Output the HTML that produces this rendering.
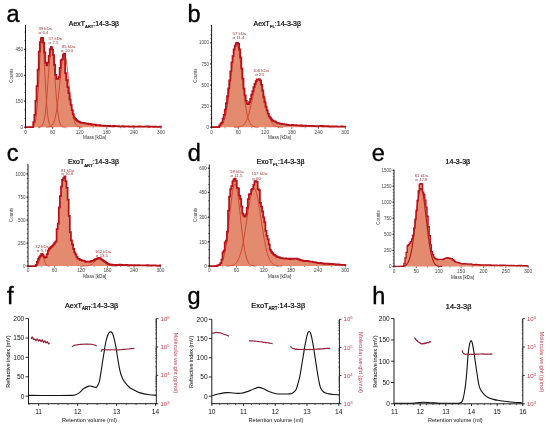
<!DOCTYPE html>
<html><head><meta charset="utf-8"><style>
html,body{margin:0;padding:0;background:#fff;}
svg{display:block;font-family:"Liberation Sans", sans-serif;will-change:transform;}
</style></head><body>
<svg width="550" height="428" viewBox="0 0 550 428">
<rect width="550" height="428" fill="#fff"/>
<path d="M25.5,127.2 L25.5,127.2 L26.6,127.2 L26.6,127.2 L27.7,127.2 L27.7,127.2 L28.8,127.2 L28.8,127.2 L29.9,127.2 L29.9,127.2 L31,127.2 L31,127.2 L32.1,127.2 L32.1,127.2 L33.2,127.2 L33.2,122.23 L34.3,122.23 L34.3,114.97 L35.4,114.97 L35.4,100.77 L36.5,100.77 L36.5,86.21 L37.6,86.21 L37.6,69.68 L38.7,69.68 L38.7,51.59 L39.8,51.59 L39.8,42.04 L40.9,42.04 L40.9,38.24 L42,38.24 L42,37.78 L43.1,37.78 L43.1,42.62 L44.2,42.62 L44.2,52.43 L45.3,52.43 L45.3,62.83 L46.4,62.83 L46.4,65.45 L47.5,65.45 L47.5,62.74 L48.6,62.74 L48.6,55.86 L49.7,55.86 L49.7,49.24 L50.8,49.24 L50.8,46.98 L51.9,46.98 L51.9,49.66 L53,49.66 L53,55.18 L54.1,55.18 L54.1,64.9 L55.2,64.9 L55.2,74.97 L56.3,74.97 L56.3,78.93 L57.4,78.93 L57.4,78.93 L58.5,78.93 L58.5,77.14 L59.6,77.14 L59.6,67.79 L60.7,67.79 L60.7,60.08 L61.8,60.08 L61.8,59.43 L62.9,59.43 L62.9,54.64 L64,54.64 L64,53.7 L65.1,53.7 L65.1,73.09 L66.2,73.09 L66.2,80.19 L67.3,80.19 L67.3,87.1 L68.4,87.1 L68.4,93.22 L69.5,93.22 L69.5,99.69 L70.6,99.69 L70.6,104.86 L71.7,104.86 L71.7,110.17 L72.8,110.17 L72.8,114.35 L73.9,114.35 L73.9,117.35 L75,117.35 L75,118.91 L76.1,118.91 L76.1,120.17 L77.2,120.17 L77.2,121.04 L78.3,121.04 L78.3,121.68 L79.4,121.68 L79.4,122.12 L80.5,122.12 L80.5,122.57 L81.6,122.57 L81.6,122.84 L82.7,122.84 L82.7,122.82 L83.8,122.82 L83.8,123 L84.9,123 L84.9,123.29 L86,123.29 L86,123.54 L87.1,123.54 L87.1,123.59 L88.2,123.59 L88.2,124.12 L89.3,124.12 L89.3,123.89 L90.4,123.89 L90.4,124.07 L91.5,124.07 L91.5,124.5 L92.6,124.5 L92.6,124.43 L93.7,124.43 L93.7,124.72 L94.8,124.72 L94.8,124.65 L95.9,124.65 L95.9,125.16 L97,125.16 L97,125.17 L98.1,125.17 L98.1,125.12 L99.2,125.12 L99.2,125.22 L100.3,125.22 L100.3,125.73 L101.4,125.73 L101.4,125.6 L102.5,125.6 L102.5,125.57 L103.6,125.57 L103.6,125.77 L104.7,125.77 L104.7,125.57 L105.8,125.57 L105.8,125.99 L106.9,125.99 L106.9,125.88 L108,125.88 L108,126.13 L109.1,126.13 L109.1,125.9 L110.2,125.9 L110.2,126.12 L111.3,126.12 L111.3,126.18 L112.4,126.18 L112.4,126.37 L113.5,126.37 L113.5,125.97 L114.6,125.97 L114.6,126.11 L115.7,126.11 L115.7,126.13 L116.8,126.13 L116.8,126.11 L117.9,126.11 L117.9,126.23 L119,126.23 L119,126.37 L120.1,126.37 L120.1,126.41 L121.2,126.41 L121.2,126.43 L122.3,126.43 L122.3,126.19 L123.4,126.19 L123.4,126.56 L124.5,126.56 L124.5,126.47 L125.6,126.47 L125.6,126.46 L126.7,126.46 L126.7,126.42 L127.8,126.42 L127.8,126.4 L128.9,126.4 L128.9,126.64 L130,126.64 L130,126.71 L131.1,126.71 L131.1,126.51 L132.2,126.51 L132.2,126.37 L133.3,126.37 L133.3,126.43 L134.4,126.43 L134.4,126.51 L135.5,126.51 L135.5,126.58 L136.6,126.58 L136.6,126.51 L137.7,126.51 L137.7,126.58 L138.8,126.58 L138.8,126.46 L139.9,126.46 L139.9,126.66 L141,126.66 L141,126.56 L142.1,126.56 L142.1,126.6 L143.2,126.6 L143.2,126.52 L144.3,126.52 L144.3,126.57 L145.4,126.57 L145.4,126.29 L146.5,126.29 L146.5,126.43 L147.6,126.43 L147.6,126.44 L148.7,126.44 L148.7,126.87 L149.8,126.87 L149.8,126.67 L150.9,126.67 L150.9,126.71 L152,126.71 L152,126.58 L153.1,126.58 L153.1,126.93 L154.2,126.93 L154.2,126.52 L155.3,126.52 L155.3,126.54 L156.4,126.54 L156.4,126.83 L157.5,126.83 L157.5,126.8 L158.6,126.8 L158.6,126.79 L159.7,126.79 L159.7,126.69 L160.8,126.69 L160.8,126.62 L161,126.62 L161,127.2 Z" fill="#e38a6f" stroke="none"/>
<path d="M30.6,127.17 L30.99,127.15 L31.37,127.11 L31.76,127.06 L32.15,126.97 L32.53,126.84 L32.92,126.64 L33.31,126.34 L33.69,125.92 L34.08,125.31 L34.46,124.47 L34.85,123.33 L35.24,121.81 L35.62,119.83 L36.01,117.31 L36.4,114.17 L36.78,110.35 L37.17,105.8 L37.56,100.52 L37.94,94.53 L38.33,87.94 L38.72,80.88 L39.1,73.54 L39.49,66.17 L39.87,59.05 L40.26,52.49 L40.65,46.79 L41.03,42.23 L41.42,39.04 L41.81,37.41 L42.19,37.41 L42.58,39.04 L42.97,42.23 L43.35,46.79 L43.74,52.49 L44.13,59.05 L44.51,66.17 L44.9,73.54 L45.28,80.88 L45.67,87.94 L46.06,94.53 L46.44,100.52 L46.83,105.8 L47.22,110.35 L47.6,114.17 L47.99,117.31 L48.38,119.83 L48.76,121.81 L49.15,123.33 L49.54,124.47 L49.92,125.31 L50.31,125.92 L50.69,126.34 L51.08,126.64 L51.47,126.84 L51.85,126.97 L52.24,127.06 L52.63,127.11 L53.01,127.15 L53.4,127.17" fill="none" stroke="#c9442e" stroke-width="0.9"/>
<path d="M38,127.17 L38.46,127.15 L38.92,127.12 L39.38,127.07 L39.84,127 L40.31,126.88 L40.77,126.7 L41.23,126.44 L41.69,126.06 L42.15,125.52 L42.61,124.77 L43.07,123.76 L43.53,122.41 L43.99,120.65 L44.45,118.41 L44.92,115.62 L45.38,112.22 L45.84,108.18 L46.3,103.48 L46.76,98.16 L47.22,92.3 L47.68,86.02 L48.14,79.5 L48.6,72.95 L49.06,66.62 L49.53,60.79 L49.99,55.72 L50.45,51.67 L50.91,48.84 L51.37,47.38 L51.83,47.38 L52.29,48.84 L52.75,51.67 L53.21,55.72 L53.67,60.79 L54.14,66.62 L54.6,72.95 L55.06,79.5 L55.52,86.02 L55.98,92.3 L56.44,98.16 L56.9,103.48 L57.36,108.18 L57.82,112.22 L58.28,115.62 L58.75,118.41 L59.21,120.65 L59.67,122.41 L60.13,123.76 L60.59,124.77 L61.05,125.52 L61.51,126.06 L61.97,126.44 L62.43,126.7 L62.89,126.88 L63.36,127 L63.82,127.07 L64.28,127.12 L64.74,127.15 L65.2,127.17" fill="none" stroke="#c9442e" stroke-width="0.9"/>
<path d="M46.3,127.18 L46.91,127.16 L47.52,127.13 L48.13,127.09 L48.74,127.01 L49.35,126.91 L49.96,126.74 L50.57,126.5 L51.18,126.16 L51.79,125.67 L52.4,124.99 L53.01,124.06 L53.62,122.83 L54.23,121.22 L54.84,119.18 L55.45,116.63 L56.06,113.53 L56.67,109.84 L57.28,105.56 L57.89,100.7 L58.5,95.36 L59.11,89.63 L59.72,83.67 L60.33,77.7 L60.94,71.92 L61.55,66.6 L62.16,61.97 L62.77,58.28 L63.38,55.69 L63.99,54.37 L64.61,54.37 L65.22,55.69 L65.83,58.28 L66.44,61.97 L67.05,66.6 L67.66,71.92 L68.27,77.7 L68.88,83.67 L69.49,89.63 L70.1,95.36 L70.71,100.7 L71.32,105.56 L71.93,109.84 L72.54,113.53 L73.15,116.63 L73.76,119.18 L74.37,121.22 L74.98,122.83 L75.59,124.06 L76.2,124.99 L76.81,125.67 L77.42,126.16 L78.03,126.5 L78.64,126.74 L79.25,126.91 L79.86,127.01 L80.47,127.09 L81.08,127.13 L81.69,127.16 L82.3,127.18" fill="none" stroke="#c9442e" stroke-width="0.9"/>
<path d="M25.5,127.2 L25.5,127.2 L26.6,127.2 L26.6,127.2 L27.7,127.2 L27.7,127.2 L28.8,127.2 L28.8,127.2 L29.9,127.2 L29.9,127.2 L31,127.2 L31,127.2 L32.1,127.2 L32.1,127.2 L33.2,127.2 L33.2,122.23 L34.3,122.23 L34.3,114.97 L35.4,114.97 L35.4,100.77 L36.5,100.77 L36.5,86.21 L37.6,86.21 L37.6,69.68 L38.7,69.68 L38.7,51.59 L39.8,51.59 L39.8,42.04 L40.9,42.04 L40.9,38.24 L42,38.24 L42,37.78 L43.1,37.78 L43.1,42.62 L44.2,42.62 L44.2,52.43 L45.3,52.43 L45.3,62.83 L46.4,62.83 L46.4,65.45 L47.5,65.45 L47.5,62.74 L48.6,62.74 L48.6,55.86 L49.7,55.86 L49.7,49.24 L50.8,49.24 L50.8,46.98 L51.9,46.98 L51.9,49.66 L53,49.66 L53,55.18 L54.1,55.18 L54.1,64.9 L55.2,64.9 L55.2,74.97 L56.3,74.97 L56.3,78.93 L57.4,78.93 L57.4,78.93 L58.5,78.93 L58.5,77.14 L59.6,77.14 L59.6,67.79 L60.7,67.79 L60.7,60.08 L61.8,60.08 L61.8,59.43 L62.9,59.43 L62.9,54.64 L64,54.64 L64,53.7 L65.1,53.7 L65.1,73.09 L66.2,73.09 L66.2,80.19 L67.3,80.19 L67.3,87.1 L68.4,87.1 L68.4,93.22 L69.5,93.22 L69.5,99.69 L70.6,99.69 L70.6,104.86 L71.7,104.86 L71.7,110.17 L72.8,110.17 L72.8,114.35 L73.9,114.35 L73.9,117.35 L75,117.35 L75,118.91 L76.1,118.91 L76.1,120.17 L77.2,120.17 L77.2,121.04 L78.3,121.04 L78.3,121.68 L79.4,121.68 L79.4,122.12 L80.5,122.12 L80.5,122.57 L81.6,122.57 L81.6,122.84 L82.7,122.84 L82.7,122.82 L83.8,122.82 L83.8,123 L84.9,123 L84.9,123.29 L86,123.29 L86,123.54 L87.1,123.54 L87.1,123.59 L88.2,123.59 L88.2,124.12 L89.3,124.12 L89.3,123.89 L90.4,123.89 L90.4,124.07 L91.5,124.07 L91.5,124.5 L92.6,124.5 L92.6,124.43 L93.7,124.43 L93.7,124.72 L94.8,124.72 L94.8,124.65 L95.9,124.65 L95.9,125.16 L97,125.16 L97,125.17 L98.1,125.17 L98.1,125.12 L99.2,125.12 L99.2,125.22 L100.3,125.22 L100.3,125.73 L101.4,125.73 L101.4,125.6 L102.5,125.6 L102.5,125.57 L103.6,125.57 L103.6,125.77 L104.7,125.77 L104.7,125.57 L105.8,125.57 L105.8,125.99 L106.9,125.99 L106.9,125.88 L108,125.88 L108,126.13 L109.1,126.13 L109.1,125.9 L110.2,125.9 L110.2,126.12 L111.3,126.12 L111.3,126.18 L112.4,126.18 L112.4,126.37 L113.5,126.37 L113.5,125.97 L114.6,125.97 L114.6,126.11 L115.7,126.11 L115.7,126.13 L116.8,126.13 L116.8,126.11 L117.9,126.11 L117.9,126.23 L119,126.23 L119,126.37 L120.1,126.37 L120.1,126.41 L121.2,126.41 L121.2,126.43 L122.3,126.43 L122.3,126.19 L123.4,126.19 L123.4,126.56 L124.5,126.56 L124.5,126.47 L125.6,126.47 L125.6,126.46 L126.7,126.46 L126.7,126.42 L127.8,126.42 L127.8,126.4 L128.9,126.4 L128.9,126.64 L130,126.64 L130,126.71 L131.1,126.71 L131.1,126.51 L132.2,126.51 L132.2,126.37 L133.3,126.37 L133.3,126.43 L134.4,126.43 L134.4,126.51 L135.5,126.51 L135.5,126.58 L136.6,126.58 L136.6,126.51 L137.7,126.51 L137.7,126.58 L138.8,126.58 L138.8,126.46 L139.9,126.46 L139.9,126.66 L141,126.66 L141,126.56 L142.1,126.56 L142.1,126.6 L143.2,126.6 L143.2,126.52 L144.3,126.52 L144.3,126.57 L145.4,126.57 L145.4,126.29 L146.5,126.29 L146.5,126.43 L147.6,126.43 L147.6,126.44 L148.7,126.44 L148.7,126.87 L149.8,126.87 L149.8,126.67 L150.9,126.67 L150.9,126.71 L152,126.71 L152,126.58 L153.1,126.58 L153.1,126.93 L154.2,126.93 L154.2,126.52 L155.3,126.52 L155.3,126.54 L156.4,126.54 L156.4,126.83 L157.5,126.83 L157.5,126.8 L158.6,126.8 L158.6,126.79 L159.7,126.79 L159.7,126.69 L160.8,126.69 L160.8,126.62 L161,126.62 L161,127.2" fill="none" stroke="#b8111a" stroke-width="1.75" stroke-linejoin="miter"/>
<path d="M211.6,127.2 L211.6,127.2 L212.7,127.2 L212.7,127.2 L213.8,127.2 L213.8,127.2 L214.9,127.2 L214.9,127.2 L216,127.2 L216,127.2 L217.1,127.2 L217.1,127.2 L218.2,127.2 L218.2,127.2 L219.3,127.2 L219.3,125.46 L220.4,125.46 L220.4,123.74 L221.5,123.74 L221.5,122.34 L222.6,122.34 L222.6,118.64 L223.7,118.64 L223.7,114.81 L224.8,114.81 L224.8,109.53 L225.9,109.53 L225.9,103.09 L227,103.09 L227,96 L228.1,96 L228.1,88.36 L229.2,88.36 L229.2,80.44 L230.3,80.44 L230.3,71.48 L231.4,71.48 L231.4,62.28 L232.5,62.28 L232.5,56.05 L233.6,56.05 L233.6,49.42 L234.7,49.42 L234.7,45.64 L235.8,45.64 L235.8,43.01 L236.9,43.01 L236.9,42.94 L238,42.94 L238,43.89 L239.1,43.89 L239.1,49.3 L240.2,49.3 L240.2,57.3 L241.3,57.3 L241.3,68.44 L242.4,68.44 L242.4,78.72 L243.5,78.72 L243.5,88.6 L244.6,88.6 L244.6,95.26 L245.7,95.26 L245.7,100.82 L246.8,100.82 L246.8,103.53 L247.9,103.53 L247.9,104.05 L249,104.05 L249,102.08 L250.1,102.08 L250.1,98.79 L251.2,98.79 L251.2,94.56 L252.3,94.56 L252.3,91.03 L253.4,91.03 L253.4,87.19 L254.5,87.19 L254.5,83.95 L255.6,83.95 L255.6,81.19 L256.7,81.19 L256.7,79.39 L257.8,79.39 L257.8,79.6 L258.9,79.6 L258.9,79.06 L260,79.06 L260,80.61 L261.1,80.61 L261.1,84.87 L262.2,84.87 L262.2,90.74 L263.3,90.74 L263.3,97.47 L264.4,97.47 L264.4,102.29 L265.5,102.29 L265.5,106.94 L266.6,106.94 L266.6,110.36 L267.7,110.36 L267.7,113.92 L268.8,113.92 L268.8,116.42 L269.9,116.42 L269.9,117.74 L271,117.74 L271,119.39 L272.1,119.39 L272.1,120.43 L273.2,120.43 L273.2,121.09 L274.3,121.09 L274.3,121.44 L275.4,121.44 L275.4,122.24 L276.5,122.24 L276.5,122.79 L277.6,122.79 L277.6,123.23 L278.7,123.23 L278.7,123.48 L279.8,123.48 L279.8,123.81 L280.9,123.81 L280.9,123.84 L282,123.84 L282,124.05 L283.1,124.05 L283.1,124 L284.2,124 L284.2,124.45 L285.3,124.45 L285.3,124.39 L286.4,124.39 L286.4,124.76 L287.5,124.76 L287.5,124.96 L288.6,124.96 L288.6,125.02 L289.7,125.02 L289.7,125.13 L290.8,125.13 L290.8,125.01 L291.9,125.01 L291.9,124.95 L293,124.95 L293,125.11 L294.1,125.11 L294.1,125.11 L295.2,125.11 L295.2,125.03 L296.3,125.03 L296.3,125.25 L297.4,125.25 L297.4,125.32 L298.5,125.32 L298.5,125.42 L299.6,125.42 L299.6,125.64 L300.7,125.64 L300.7,125.4 L301.8,125.4 L301.8,125.76 L302.9,125.76 L302.9,125.51 L304,125.51 L304,125.65 L305.1,125.65 L305.1,125.56 L306.2,125.56 L306.2,125.76 L307.3,125.76 L307.3,125.9 L308.4,125.9 L308.4,125.81 L309.5,125.81 L309.5,125.97 L310.6,125.97 L310.6,125.95 L311.7,125.95 L311.7,125.94 L312.8,125.94 L312.8,125.98 L313.9,125.98 L313.9,126.01 L315,126.01 L315,126.11 L316.1,126.11 L316.1,126.06 L317.2,126.06 L317.2,126.32 L318.3,126.32 L318.3,126.09 L319.4,126.09 L319.4,126.24 L320.5,126.24 L320.5,125.98 L321.6,125.98 L321.6,125.99 L322.7,125.99 L322.7,126.4 L323.8,126.4 L323.8,126.17 L324.9,126.17 L324.9,126.22 L326,126.22 L326,126.36 L327.1,126.36 L327.1,126.18 L328.2,126.18 L328.2,126.33 L329.3,126.33 L329.3,126.51 L330.4,126.51 L330.4,126.35 L331.5,126.35 L331.5,126.36 L332.6,126.36 L332.6,126.35 L333.7,126.35 L333.7,126.53 L334.8,126.53 L334.8,126.33 L335.9,126.33 L335.9,126.33 L337,126.33 L337,126.59 L338.1,126.59 L338.1,126.55 L339.2,126.55 L339.2,126.5 L340.3,126.5 L340.3,126.58 L341.4,126.58 L341.4,126.32 L342.5,126.32 L342.5,126.53 L343.6,126.53 L343.6,126.7 L344.7,126.7 L344.7,126.69 L345.3,126.69 L345.3,127.2 Z" fill="#e38a6f" stroke="none"/>
<path d="M214.5,127.17 L215.25,127.15 L215.99,127.12 L216.74,127.07 L217.48,126.99 L218.23,126.86 L218.97,126.68 L219.72,126.4 L220.47,126 L221.21,125.44 L221.96,124.65 L222.7,123.59 L223.45,122.17 L224.19,120.32 L224.94,117.97 L225.69,115.04 L226.43,111.47 L227.18,107.23 L227.92,102.29 L228.67,96.71 L229.42,90.56 L230.16,83.97 L230.91,77.11 L231.65,70.24 L232.4,63.59 L233.14,57.47 L233.89,52.15 L234.64,47.89 L235.38,44.92 L236.13,43.39 L236.87,43.39 L237.62,44.92 L238.36,47.89 L239.11,52.15 L239.86,57.47 L240.6,63.59 L241.35,70.24 L242.09,77.11 L242.84,83.97 L243.58,90.56 L244.33,96.71 L245.08,102.29 L245.82,107.23 L246.57,111.47 L247.31,115.04 L248.06,117.97 L248.81,120.32 L249.55,122.17 L250.3,123.59 L251.04,124.65 L251.79,125.44 L252.53,126 L253.28,126.4 L254.03,126.68 L254.77,126.86 L255.52,126.99 L256.26,127.07 L257.01,127.12 L257.75,127.15 L258.5,127.17" fill="none" stroke="#c9442e" stroke-width="0.9"/>
<path d="M234.2,127.18 L235.03,127.17 L235.85,127.15 L236.68,127.12 L237.51,127.08 L238.34,127.01 L239.16,126.9 L239.99,126.74 L240.82,126.51 L241.64,126.19 L242.47,125.74 L243.3,125.14 L244.13,124.33 L244.95,123.27 L245.78,121.93 L246.61,120.25 L247.43,118.21 L248.26,115.79 L249.09,112.97 L249.92,109.78 L250.74,106.26 L251.57,102.49 L252.4,98.58 L253.22,94.65 L254.05,90.85 L254.88,87.35 L255.71,84.31 L256.53,81.88 L257.36,80.18 L258.19,79.31 L259.01,79.31 L259.84,80.18 L260.67,81.88 L261.49,84.31 L262.32,87.35 L263.15,90.85 L263.98,94.65 L264.8,98.58 L265.63,102.49 L266.46,106.26 L267.28,109.78 L268.11,112.97 L268.94,115.79 L269.77,118.21 L270.59,120.25 L271.42,121.93 L272.25,123.27 L273.07,124.33 L273.9,125.14 L274.73,125.74 L275.56,126.19 L276.38,126.51 L277.21,126.74 L278.04,126.9 L278.86,127.01 L279.69,127.08 L280.52,127.12 L281.35,127.15 L282.17,127.17 L283,127.18" fill="none" stroke="#c9442e" stroke-width="0.9"/>
<path d="M211.6,127.2 L211.6,127.2 L212.7,127.2 L212.7,127.2 L213.8,127.2 L213.8,127.2 L214.9,127.2 L214.9,127.2 L216,127.2 L216,127.2 L217.1,127.2 L217.1,127.2 L218.2,127.2 L218.2,127.2 L219.3,127.2 L219.3,125.46 L220.4,125.46 L220.4,123.74 L221.5,123.74 L221.5,122.34 L222.6,122.34 L222.6,118.64 L223.7,118.64 L223.7,114.81 L224.8,114.81 L224.8,109.53 L225.9,109.53 L225.9,103.09 L227,103.09 L227,96 L228.1,96 L228.1,88.36 L229.2,88.36 L229.2,80.44 L230.3,80.44 L230.3,71.48 L231.4,71.48 L231.4,62.28 L232.5,62.28 L232.5,56.05 L233.6,56.05 L233.6,49.42 L234.7,49.42 L234.7,45.64 L235.8,45.64 L235.8,43.01 L236.9,43.01 L236.9,42.94 L238,42.94 L238,43.89 L239.1,43.89 L239.1,49.3 L240.2,49.3 L240.2,57.3 L241.3,57.3 L241.3,68.44 L242.4,68.44 L242.4,78.72 L243.5,78.72 L243.5,88.6 L244.6,88.6 L244.6,95.26 L245.7,95.26 L245.7,100.82 L246.8,100.82 L246.8,103.53 L247.9,103.53 L247.9,104.05 L249,104.05 L249,102.08 L250.1,102.08 L250.1,98.79 L251.2,98.79 L251.2,94.56 L252.3,94.56 L252.3,91.03 L253.4,91.03 L253.4,87.19 L254.5,87.19 L254.5,83.95 L255.6,83.95 L255.6,81.19 L256.7,81.19 L256.7,79.39 L257.8,79.39 L257.8,79.6 L258.9,79.6 L258.9,79.06 L260,79.06 L260,80.61 L261.1,80.61 L261.1,84.87 L262.2,84.87 L262.2,90.74 L263.3,90.74 L263.3,97.47 L264.4,97.47 L264.4,102.29 L265.5,102.29 L265.5,106.94 L266.6,106.94 L266.6,110.36 L267.7,110.36 L267.7,113.92 L268.8,113.92 L268.8,116.42 L269.9,116.42 L269.9,117.74 L271,117.74 L271,119.39 L272.1,119.39 L272.1,120.43 L273.2,120.43 L273.2,121.09 L274.3,121.09 L274.3,121.44 L275.4,121.44 L275.4,122.24 L276.5,122.24 L276.5,122.79 L277.6,122.79 L277.6,123.23 L278.7,123.23 L278.7,123.48 L279.8,123.48 L279.8,123.81 L280.9,123.81 L280.9,123.84 L282,123.84 L282,124.05 L283.1,124.05 L283.1,124 L284.2,124 L284.2,124.45 L285.3,124.45 L285.3,124.39 L286.4,124.39 L286.4,124.76 L287.5,124.76 L287.5,124.96 L288.6,124.96 L288.6,125.02 L289.7,125.02 L289.7,125.13 L290.8,125.13 L290.8,125.01 L291.9,125.01 L291.9,124.95 L293,124.95 L293,125.11 L294.1,125.11 L294.1,125.11 L295.2,125.11 L295.2,125.03 L296.3,125.03 L296.3,125.25 L297.4,125.25 L297.4,125.32 L298.5,125.32 L298.5,125.42 L299.6,125.42 L299.6,125.64 L300.7,125.64 L300.7,125.4 L301.8,125.4 L301.8,125.76 L302.9,125.76 L302.9,125.51 L304,125.51 L304,125.65 L305.1,125.65 L305.1,125.56 L306.2,125.56 L306.2,125.76 L307.3,125.76 L307.3,125.9 L308.4,125.9 L308.4,125.81 L309.5,125.81 L309.5,125.97 L310.6,125.97 L310.6,125.95 L311.7,125.95 L311.7,125.94 L312.8,125.94 L312.8,125.98 L313.9,125.98 L313.9,126.01 L315,126.01 L315,126.11 L316.1,126.11 L316.1,126.06 L317.2,126.06 L317.2,126.32 L318.3,126.32 L318.3,126.09 L319.4,126.09 L319.4,126.24 L320.5,126.24 L320.5,125.98 L321.6,125.98 L321.6,125.99 L322.7,125.99 L322.7,126.4 L323.8,126.4 L323.8,126.17 L324.9,126.17 L324.9,126.22 L326,126.22 L326,126.36 L327.1,126.36 L327.1,126.18 L328.2,126.18 L328.2,126.33 L329.3,126.33 L329.3,126.51 L330.4,126.51 L330.4,126.35 L331.5,126.35 L331.5,126.36 L332.6,126.36 L332.6,126.35 L333.7,126.35 L333.7,126.53 L334.8,126.53 L334.8,126.33 L335.9,126.33 L335.9,126.33 L337,126.33 L337,126.59 L338.1,126.59 L338.1,126.55 L339.2,126.55 L339.2,126.5 L340.3,126.5 L340.3,126.58 L341.4,126.58 L341.4,126.32 L342.5,126.32 L342.5,126.53 L343.6,126.53 L343.6,126.7 L344.7,126.7 L344.7,126.69 L345.3,126.69 L345.3,127.2" fill="none" stroke="#b8111a" stroke-width="1.75" stroke-linejoin="miter"/>
<path d="M28,266 L28,266 L29.1,266 L29.1,266 L30.2,266 L30.2,266 L31.3,266 L31.3,266 L32.4,266 L32.4,266 L33.5,266 L33.5,266 L34.6,266 L34.6,266 L35.7,266 L35.7,264.94 L36.8,264.94 L36.8,261.87 L37.9,261.87 L37.9,259.1 L39,259.1 L39,257 L40.1,257 L40.1,255.52 L41.2,255.52 L41.2,253.99 L42.3,253.99 L42.3,254.74 L43.4,254.74 L43.4,256.25 L44.5,256.25 L44.5,257.61 L45.6,257.61 L45.6,257.14 L46.7,257.14 L46.7,254.12 L47.8,254.12 L47.8,250.69 L48.9,250.69 L48.9,248.8 L50,248.8 L50,247.59 L51.1,247.59 L51.1,246.53 L52.2,246.53 L52.2,245.55 L53.3,245.55 L53.3,244.3 L54.4,244.3 L54.4,242.87 L55.5,242.87 L55.5,241.26 L56.6,241.26 L56.6,229.09 L57.7,229.09 L57.7,223.67 L58.8,223.67 L58.8,207.47 L59.9,207.47 L59.9,196.18 L61,196.18 L61,186.68 L62.1,186.68 L62.1,179.93 L63.2,179.93 L63.2,178.01 L64.3,178.01 L64.3,176.25 L65.4,176.25 L65.4,181.05 L66.5,181.05 L66.5,187.97 L67.6,187.97 L67.6,199.69 L68.7,199.69 L68.7,215.94 L69.8,215.94 L69.8,232.24 L70.9,232.24 L70.9,240.26 L72,240.26 L72,244.28 L73.1,244.28 L73.1,248.98 L74.2,248.98 L74.2,252.28 L75.3,252.28 L75.3,254.37 L76.4,254.37 L76.4,256.82 L77.5,256.82 L77.5,258.53 L78.6,258.53 L78.6,258.85 L79.7,258.85 L79.7,259.88 L80.8,259.88 L80.8,260.05 L81.9,260.05 L81.9,260.6 L83,260.6 L83,260.74 L84.1,260.74 L84.1,261.16 L85.2,261.16 L85.2,261.75 L86.3,261.75 L86.3,261.6 L87.4,261.6 L87.4,261.52 L88.5,261.52 L88.5,261.72 L89.6,261.72 L89.6,261.77 L90.7,261.77 L90.7,261.21 L91.8,261.21 L91.8,260.86 L92.9,260.86 L92.9,260.5 L94,260.5 L94,259.87 L95.1,259.87 L95.1,259.18 L96.2,259.18 L96.2,258.92 L97.3,258.92 L97.3,258.28 L98.4,258.28 L98.4,257.75 L99.5,257.75 L99.5,258.04 L100.6,258.04 L100.6,259.05 L101.7,259.05 L101.7,259.92 L102.8,259.92 L102.8,260.6 L103.9,260.6 L103.9,261.28 L105,261.28 L105,262.08 L106.1,262.08 L106.1,262.76 L107.2,262.76 L107.2,263.6 L108.3,263.6 L108.3,264.23 L109.4,264.23 L109.4,264.44 L110.5,264.44 L110.5,264.52 L111.6,264.52 L111.6,264.72 L112.7,264.72 L112.7,264.85 L113.8,264.85 L113.8,264.8 L114.9,264.8 L114.9,264.97 L116,264.97 L116,265.04 L117.1,265.04 L117.1,264.92 L118.2,264.92 L118.2,265.03 L119.3,265.03 L119.3,264.68 L120.4,264.68 L120.4,264.93 L121.5,264.93 L121.5,265.14 L122.6,265.14 L122.6,264.98 L123.7,264.98 L123.7,265.05 L124.8,265.05 L124.8,265.19 L125.9,265.19 L125.9,264.99 L127,264.99 L127,265.24 L128.1,265.24 L128.1,265.53 L129.2,265.53 L129.2,265.07 L130.3,265.07 L130.3,265.26 L131.4,265.26 L131.4,265.02 L132.5,265.02 L132.5,265.3 L133.6,265.3 L133.6,265.38 L134.7,265.38 L134.7,265.06 L135.8,265.06 L135.8,265.39 L136.9,265.39 L136.9,265.25 L138,265.25 L138,265.12 L139.1,265.12 L139.1,265.3 L140.2,265.3 L140.2,265.33 L141.3,265.33 L141.3,265.33 L142.4,265.33 L142.4,265.25 L143.5,265.25 L143.5,265.47 L144.6,265.47 L144.6,265.31 L145.7,265.31 L145.7,265.33 L146.8,265.33 L146.8,265.13 L147.9,265.13 L147.9,265.47 L149,265.47 L149,265.56 L150.1,265.56 L150.1,265.37 L151.2,265.37 L151.2,265.53 L152.3,265.53 L152.3,265.46 L153.4,265.46 L153.4,265.49 L154.5,265.49 L154.5,265.38 L155.6,265.38 L155.6,265.62 L156.7,265.62 L156.7,265.57 L157.8,265.57 L157.8,265.88 L158.9,265.88 L158.9,265.69 L160,265.69 L160,265.41 L160.4,265.41 L160.4,266 Z" fill="#e38a6f" stroke="none"/>
<path d="M34,266 L34.27,265.99 L34.54,265.99 L34.81,265.98 L35.08,265.97 L35.36,265.96 L35.63,265.93 L35.9,265.9 L36.17,265.84 L36.44,265.77 L36.71,265.67 L36.98,265.53 L37.25,265.34 L37.53,265.1 L37.8,264.79 L38.07,264.41 L38.34,263.94 L38.61,263.38 L38.88,262.74 L39.15,262.01 L39.42,261.2 L39.69,260.34 L39.97,259.44 L40.24,258.54 L40.51,257.67 L40.78,256.87 L41.05,256.17 L41.32,255.61 L41.59,255.23 L41.86,255.03 L42.14,255.03 L42.41,255.23 L42.68,255.61 L42.95,256.17 L43.22,256.87 L43.49,257.67 L43.76,258.54 L44.03,259.44 L44.31,260.34 L44.58,261.2 L44.85,262.01 L45.12,262.74 L45.39,263.38 L45.66,263.94 L45.93,264.41 L46.2,264.79 L46.47,265.1 L46.75,265.34 L47.02,265.53 L47.29,265.67 L47.56,265.77 L47.83,265.84 L48.1,265.9 L48.37,265.93 L48.64,265.96 L48.92,265.97 L49.19,265.98 L49.46,265.99 L49.73,265.99 L50,266" fill="none" stroke="#c9442e" stroke-width="0.9"/>
<path d="M81.5,266 L82.11,266 L82.72,265.99 L83.33,265.99 L83.94,265.98 L84.55,265.97 L85.16,265.95 L85.77,265.93 L86.38,265.89 L86.99,265.84 L87.6,265.77 L88.21,265.68 L88.82,265.55 L89.43,265.39 L90.04,265.18 L90.65,264.91 L91.26,264.6 L91.87,264.22 L92.48,263.78 L93.09,263.28 L93.7,262.73 L94.31,262.14 L94.92,261.53 L95.53,260.91 L96.14,260.32 L96.75,259.77 L97.36,259.3 L97.97,258.92 L98.58,258.65 L99.19,258.52 L99.81,258.52 L100.42,258.65 L101.03,258.92 L101.64,259.3 L102.25,259.77 L102.86,260.32 L103.47,260.91 L104.08,261.53 L104.69,262.14 L105.3,262.73 L105.91,263.28 L106.52,263.78 L107.13,264.22 L107.74,264.6 L108.35,264.91 L108.96,265.18 L109.57,265.39 L110.18,265.55 L110.79,265.68 L111.4,265.77 L112.01,265.84 L112.62,265.89 L113.23,265.93 L113.84,265.95 L114.45,265.97 L115.06,265.98 L115.67,265.99 L116.28,265.99 L116.89,266 L117.5,266" fill="none" stroke="#c9442e" stroke-width="0.9"/>
<path d="M28,266 L28,266 L29.1,266 L29.1,266 L30.2,266 L30.2,266 L31.3,266 L31.3,266 L32.4,266 L32.4,266 L33.5,266 L33.5,266 L34.6,266 L34.6,266 L35.7,266 L35.7,264.94 L36.8,264.94 L36.8,261.87 L37.9,261.87 L37.9,259.1 L39,259.1 L39,257 L40.1,257 L40.1,255.52 L41.2,255.52 L41.2,253.99 L42.3,253.99 L42.3,254.74 L43.4,254.74 L43.4,256.25 L44.5,256.25 L44.5,257.61 L45.6,257.61 L45.6,257.14 L46.7,257.14 L46.7,254.12 L47.8,254.12 L47.8,250.69 L48.9,250.69 L48.9,248.8 L50,248.8 L50,247.59 L51.1,247.59 L51.1,246.53 L52.2,246.53 L52.2,245.55 L53.3,245.55 L53.3,244.3 L54.4,244.3 L54.4,242.87 L55.5,242.87 L55.5,241.26 L56.6,241.26 L56.6,229.09 L57.7,229.09 L57.7,223.67 L58.8,223.67 L58.8,207.47 L59.9,207.47 L59.9,196.18 L61,196.18 L61,186.68 L62.1,186.68 L62.1,179.93 L63.2,179.93 L63.2,178.01 L64.3,178.01 L64.3,176.25 L65.4,176.25 L65.4,181.05 L66.5,181.05 L66.5,187.97 L67.6,187.97 L67.6,199.69 L68.7,199.69 L68.7,215.94 L69.8,215.94 L69.8,232.24 L70.9,232.24 L70.9,240.26 L72,240.26 L72,244.28 L73.1,244.28 L73.1,248.98 L74.2,248.98 L74.2,252.28 L75.3,252.28 L75.3,254.37 L76.4,254.37 L76.4,256.82 L77.5,256.82 L77.5,258.53 L78.6,258.53 L78.6,258.85 L79.7,258.85 L79.7,259.88 L80.8,259.88 L80.8,260.05 L81.9,260.05 L81.9,260.6 L83,260.6 L83,260.74 L84.1,260.74 L84.1,261.16 L85.2,261.16 L85.2,261.75 L86.3,261.75 L86.3,261.6 L87.4,261.6 L87.4,261.52 L88.5,261.52 L88.5,261.72 L89.6,261.72 L89.6,261.77 L90.7,261.77 L90.7,261.21 L91.8,261.21 L91.8,260.86 L92.9,260.86 L92.9,260.5 L94,260.5 L94,259.87 L95.1,259.87 L95.1,259.18 L96.2,259.18 L96.2,258.92 L97.3,258.92 L97.3,258.28 L98.4,258.28 L98.4,257.75 L99.5,257.75 L99.5,258.04 L100.6,258.04 L100.6,259.05 L101.7,259.05 L101.7,259.92 L102.8,259.92 L102.8,260.6 L103.9,260.6 L103.9,261.28 L105,261.28 L105,262.08 L106.1,262.08 L106.1,262.76 L107.2,262.76 L107.2,263.6 L108.3,263.6 L108.3,264.23 L109.4,264.23 L109.4,264.44 L110.5,264.44 L110.5,264.52 L111.6,264.52 L111.6,264.72 L112.7,264.72 L112.7,264.85 L113.8,264.85 L113.8,264.8 L114.9,264.8 L114.9,264.97 L116,264.97 L116,265.04 L117.1,265.04 L117.1,264.92 L118.2,264.92 L118.2,265.03 L119.3,265.03 L119.3,264.68 L120.4,264.68 L120.4,264.93 L121.5,264.93 L121.5,265.14 L122.6,265.14 L122.6,264.98 L123.7,264.98 L123.7,265.05 L124.8,265.05 L124.8,265.19 L125.9,265.19 L125.9,264.99 L127,264.99 L127,265.24 L128.1,265.24 L128.1,265.53 L129.2,265.53 L129.2,265.07 L130.3,265.07 L130.3,265.26 L131.4,265.26 L131.4,265.02 L132.5,265.02 L132.5,265.3 L133.6,265.3 L133.6,265.38 L134.7,265.38 L134.7,265.06 L135.8,265.06 L135.8,265.39 L136.9,265.39 L136.9,265.25 L138,265.25 L138,265.12 L139.1,265.12 L139.1,265.3 L140.2,265.3 L140.2,265.33 L141.3,265.33 L141.3,265.33 L142.4,265.33 L142.4,265.25 L143.5,265.25 L143.5,265.47 L144.6,265.47 L144.6,265.31 L145.7,265.31 L145.7,265.33 L146.8,265.33 L146.8,265.13 L147.9,265.13 L147.9,265.47 L149,265.47 L149,265.56 L150.1,265.56 L150.1,265.37 L151.2,265.37 L151.2,265.53 L152.3,265.53 L152.3,265.46 L153.4,265.46 L153.4,265.49 L154.5,265.49 L154.5,265.38 L155.6,265.38 L155.6,265.62 L156.7,265.62 L156.7,265.57 L157.8,265.57 L157.8,265.88 L158.9,265.88 L158.9,265.69 L160,265.69 L160,265.41 L160.4,265.41 L160.4,266" fill="none" stroke="#b8111a" stroke-width="1.75" stroke-linejoin="miter"/>
<path d="M209.3,266 L209.3,266 L210.4,266 L210.4,266 L211.5,266 L211.5,266 L212.6,266 L212.6,266 L213.7,266 L213.7,266 L214.8,266 L214.8,266 L215.9,266 L215.9,266 L217,266 L217,265.6 L218.1,265.6 L218.1,265.14 L219.2,265.14 L219.2,264.63 L220.3,264.63 L220.3,263.23 L221.4,263.23 L221.4,259.72 L222.5,259.72 L222.5,252.4 L223.6,252.4 L223.6,250.69 L224.7,250.69 L224.7,242.38 L225.8,242.38 L225.8,240.73 L226.9,240.73 L226.9,231.69 L228,231.69 L228,210.58 L229.1,210.58 L229.1,196.7 L230.2,196.7 L230.2,189.03 L231.3,189.03 L231.3,186.06 L232.4,186.06 L232.4,181.3 L233.5,181.3 L233.5,179.35 L234.6,179.35 L234.6,178.6 L235.7,178.6 L235.7,180.84 L236.8,180.84 L236.8,187.85 L237.9,187.85 L237.9,188.49 L239,188.49 L239,195.65 L240.1,195.65 L240.1,198.94 L241.2,198.94 L241.2,206.35 L242.3,206.35 L242.3,213.53 L243.4,213.53 L243.4,215.5 L244.5,215.5 L244.5,216.57 L245.6,216.57 L245.6,214.35 L246.7,214.35 L246.7,207.82 L247.8,207.82 L247.8,199.17 L248.9,199.17 L248.9,194.35 L250,194.35 L250,193.95 L251.1,193.95 L251.1,189.73 L252.2,189.73 L252.2,188.83 L253.3,188.83 L253.3,184.83 L254.4,184.83 L254.4,181.14 L255.5,181.14 L255.5,181.02 L256.6,181.02 L256.6,181.97 L257.7,181.97 L257.7,189 L258.8,189 L258.8,190.06 L259.9,190.06 L259.9,202.91 L261,202.91 L261,206.63 L262.1,206.63 L262.1,211.25 L263.2,211.25 L263.2,217.4 L264.3,217.4 L264.3,222.04 L265.4,222.04 L265.4,230.8 L266.5,230.8 L266.5,235.9 L267.6,235.9 L267.6,239.42 L268.7,239.42 L268.7,244.35 L269.8,244.35 L269.8,249.57 L270.9,249.57 L270.9,251.56 L272,251.56 L272,253.15 L273.1,253.15 L273.1,254.25 L274.2,254.25 L274.2,254.95 L275.3,254.95 L275.3,255.85 L276.4,255.85 L276.4,256.59 L277.5,256.59 L277.5,257.03 L278.6,257.03 L278.6,257.19 L279.7,257.19 L279.7,257.76 L280.8,257.76 L280.8,258.07 L281.9,258.07 L281.9,258.15 L283,258.15 L283,258.49 L284.1,258.49 L284.1,258.5 L285.2,258.5 L285.2,258.48 L286.3,258.48 L286.3,258.51 L287.4,258.51 L287.4,258.8 L288.5,258.8 L288.5,258.62 L289.6,258.62 L289.6,259.04 L290.7,259.04 L290.7,258.69 L291.8,258.69 L291.8,258.95 L292.9,258.95 L292.9,258.88 L294,258.88 L294,258.58 L295.1,258.58 L295.1,258.69 L296.2,258.69 L296.2,258.72 L297.3,258.72 L297.3,259.04 L298.4,259.04 L298.4,259.41 L299.5,259.41 L299.5,259.98 L300.6,259.98 L300.6,260.42 L301.7,260.42 L301.7,260.41 L302.8,260.41 L302.8,260.79 L303.9,260.79 L303.9,260.89 L305,260.89 L305,261.03 L306.1,261.03 L306.1,260.95 L307.2,260.95 L307.2,261.11 L308.3,261.11 L308.3,261.2 L309.4,261.2 L309.4,261.51 L310.5,261.51 L310.5,261.67 L311.6,261.67 L311.6,261.67 L312.7,261.67 L312.7,262.04 L313.8,262.04 L313.8,262.1 L314.9,262.1 L314.9,262.34 L316,262.34 L316,262.74 L317.1,262.74 L317.1,262.88 L318.2,262.88 L318.2,263.11 L319.3,263.11 L319.3,263.01 L320.4,263.01 L320.4,262.98 L321.5,262.98 L321.5,263.38 L322.6,263.38 L322.6,263.44 L323.7,263.44 L323.7,263.8 L324.8,263.8 L324.8,263.55 L325.9,263.55 L325.9,263.65 L327,263.65 L327,263.85 L328.1,263.85 L328.1,263.69 L329.2,263.69 L329.2,264.05 L330.3,264.05 L330.3,263.95 L331.4,263.95 L331.4,263.99 L332.5,263.99 L332.5,264.24 L333.6,264.24 L333.6,264.06 L334.7,264.06 L334.7,264.12 L335.8,264.12 L335.8,264.51 L336.9,264.51 L336.9,264.59 L338,264.59 L338,264.42 L339.1,264.42 L339.1,264.58 L340.2,264.58 L340.2,264.81 L341.3,264.81 L341.3,264.78 L342.4,264.78 L342.4,264.84 L343.5,264.84 L343.5,264.92 L344.6,264.92 L344.6,264.89 L345.3,264.89 L345.3,266 Z" fill="#e38a6f" stroke="none"/>
<path d="M213.6,265.97 L214.33,265.95 L215.05,265.92 L215.78,265.87 L216.5,265.79 L217.23,265.67 L217.95,265.49 L218.68,265.22 L219.4,264.83 L220.13,264.28 L220.85,263.51 L221.58,262.47 L222.31,261.09 L223.03,259.29 L223.76,256.99 L224.48,254.13 L225.21,250.65 L225.93,246.5 L226.66,241.69 L227.38,236.24 L228.11,230.23 L228.83,223.79 L229.56,217.11 L230.28,210.39 L231.01,203.91 L231.74,197.93 L232.46,192.73 L233.19,188.58 L233.91,185.68 L234.64,184.19 L235.36,184.19 L236.09,185.68 L236.81,188.58 L237.54,192.73 L238.26,197.93 L238.99,203.91 L239.72,210.39 L240.44,217.11 L241.17,223.79 L241.89,230.23 L242.62,236.24 L243.34,241.69 L244.07,246.5 L244.79,250.65 L245.52,254.13 L246.24,256.99 L246.97,259.29 L247.69,261.09 L248.42,262.47 L249.15,263.51 L249.87,264.28 L250.6,264.83 L251.32,265.22 L252.05,265.49 L252.77,265.67 L253.5,265.79 L254.22,265.87 L254.95,265.92 L255.67,265.95 L256.4,265.97" fill="none" stroke="#c9442e" stroke-width="0.9"/>
<path d="M226,265.97 L226.95,265.96 L227.9,265.93 L228.85,265.88 L229.8,265.8 L230.75,265.69 L231.69,265.51 L232.64,265.26 L233.59,264.89 L234.54,264.36 L235.49,263.63 L236.44,262.64 L237.39,261.33 L238.34,259.61 L239.29,257.43 L240.24,254.71 L241.19,251.4 L242.14,247.45 L243.08,242.87 L244.03,237.69 L244.98,231.98 L245.93,225.85 L246.88,219.49 L247.83,213.1 L248.78,206.94 L249.73,201.25 L250.68,196.31 L251.63,192.36 L252.58,189.6 L253.53,188.18 L254.47,188.18 L255.42,189.6 L256.37,192.36 L257.32,196.31 L258.27,201.25 L259.22,206.94 L260.17,213.1 L261.12,219.49 L262.07,225.85 L263.02,231.98 L263.97,237.69 L264.92,242.87 L265.86,247.45 L266.81,251.4 L267.76,254.71 L268.71,257.43 L269.66,259.61 L270.61,261.33 L271.56,262.64 L272.51,263.63 L273.46,264.36 L274.41,264.89 L275.36,265.26 L276.31,265.51 L277.25,265.69 L278.2,265.8 L279.15,265.88 L280.1,265.93 L281.05,265.96 L282,265.97" fill="none" stroke="#c9442e" stroke-width="0.9"/>
<path d="M209.3,266 L209.3,266 L210.4,266 L210.4,266 L211.5,266 L211.5,266 L212.6,266 L212.6,266 L213.7,266 L213.7,266 L214.8,266 L214.8,266 L215.9,266 L215.9,266 L217,266 L217,265.6 L218.1,265.6 L218.1,265.14 L219.2,265.14 L219.2,264.63 L220.3,264.63 L220.3,263.23 L221.4,263.23 L221.4,259.72 L222.5,259.72 L222.5,252.4 L223.6,252.4 L223.6,250.69 L224.7,250.69 L224.7,242.38 L225.8,242.38 L225.8,240.73 L226.9,240.73 L226.9,231.69 L228,231.69 L228,210.58 L229.1,210.58 L229.1,196.7 L230.2,196.7 L230.2,189.03 L231.3,189.03 L231.3,186.06 L232.4,186.06 L232.4,181.3 L233.5,181.3 L233.5,179.35 L234.6,179.35 L234.6,178.6 L235.7,178.6 L235.7,180.84 L236.8,180.84 L236.8,187.85 L237.9,187.85 L237.9,188.49 L239,188.49 L239,195.65 L240.1,195.65 L240.1,198.94 L241.2,198.94 L241.2,206.35 L242.3,206.35 L242.3,213.53 L243.4,213.53 L243.4,215.5 L244.5,215.5 L244.5,216.57 L245.6,216.57 L245.6,214.35 L246.7,214.35 L246.7,207.82 L247.8,207.82 L247.8,199.17 L248.9,199.17 L248.9,194.35 L250,194.35 L250,193.95 L251.1,193.95 L251.1,189.73 L252.2,189.73 L252.2,188.83 L253.3,188.83 L253.3,184.83 L254.4,184.83 L254.4,181.14 L255.5,181.14 L255.5,181.02 L256.6,181.02 L256.6,181.97 L257.7,181.97 L257.7,189 L258.8,189 L258.8,190.06 L259.9,190.06 L259.9,202.91 L261,202.91 L261,206.63 L262.1,206.63 L262.1,211.25 L263.2,211.25 L263.2,217.4 L264.3,217.4 L264.3,222.04 L265.4,222.04 L265.4,230.8 L266.5,230.8 L266.5,235.9 L267.6,235.9 L267.6,239.42 L268.7,239.42 L268.7,244.35 L269.8,244.35 L269.8,249.57 L270.9,249.57 L270.9,251.56 L272,251.56 L272,253.15 L273.1,253.15 L273.1,254.25 L274.2,254.25 L274.2,254.95 L275.3,254.95 L275.3,255.85 L276.4,255.85 L276.4,256.59 L277.5,256.59 L277.5,257.03 L278.6,257.03 L278.6,257.19 L279.7,257.19 L279.7,257.76 L280.8,257.76 L280.8,258.07 L281.9,258.07 L281.9,258.15 L283,258.15 L283,258.49 L284.1,258.49 L284.1,258.5 L285.2,258.5 L285.2,258.48 L286.3,258.48 L286.3,258.51 L287.4,258.51 L287.4,258.8 L288.5,258.8 L288.5,258.62 L289.6,258.62 L289.6,259.04 L290.7,259.04 L290.7,258.69 L291.8,258.69 L291.8,258.95 L292.9,258.95 L292.9,258.88 L294,258.88 L294,258.58 L295.1,258.58 L295.1,258.69 L296.2,258.69 L296.2,258.72 L297.3,258.72 L297.3,259.04 L298.4,259.04 L298.4,259.41 L299.5,259.41 L299.5,259.98 L300.6,259.98 L300.6,260.42 L301.7,260.42 L301.7,260.41 L302.8,260.41 L302.8,260.79 L303.9,260.79 L303.9,260.89 L305,260.89 L305,261.03 L306.1,261.03 L306.1,260.95 L307.2,260.95 L307.2,261.11 L308.3,261.11 L308.3,261.2 L309.4,261.2 L309.4,261.51 L310.5,261.51 L310.5,261.67 L311.6,261.67 L311.6,261.67 L312.7,261.67 L312.7,262.04 L313.8,262.04 L313.8,262.1 L314.9,262.1 L314.9,262.34 L316,262.34 L316,262.74 L317.1,262.74 L317.1,262.88 L318.2,262.88 L318.2,263.11 L319.3,263.11 L319.3,263.01 L320.4,263.01 L320.4,262.98 L321.5,262.98 L321.5,263.38 L322.6,263.38 L322.6,263.44 L323.7,263.44 L323.7,263.8 L324.8,263.8 L324.8,263.55 L325.9,263.55 L325.9,263.65 L327,263.65 L327,263.85 L328.1,263.85 L328.1,263.69 L329.2,263.69 L329.2,264.05 L330.3,264.05 L330.3,263.95 L331.4,263.95 L331.4,263.99 L332.5,263.99 L332.5,264.24 L333.6,264.24 L333.6,264.06 L334.7,264.06 L334.7,264.12 L335.8,264.12 L335.8,264.51 L336.9,264.51 L336.9,264.59 L338,264.59 L338,264.42 L339.1,264.42 L339.1,264.58 L340.2,264.58 L340.2,264.81 L341.3,264.81 L341.3,264.78 L342.4,264.78 L342.4,264.84 L343.5,264.84 L343.5,264.92 L344.6,264.92 L344.6,264.89 L345.3,264.89 L345.3,266" fill="none" stroke="#b8111a" stroke-width="1.75" stroke-linejoin="miter"/>
<path d="M394,266.4 L394,266.4 L395.1,266.4 L395.1,266.4 L396.2,266.4 L396.2,266.4 L397.3,266.4 L397.3,266.4 L398.4,266.4 L398.4,266.4 L399.5,266.4 L399.5,266.4 L400.6,266.4 L400.6,266.4 L401.7,266.4 L401.7,266.4 L402.8,266.4 L402.8,266.23 L403.9,266.23 L403.9,263.38 L405,263.38 L405,257.9 L406.1,257.9 L406.1,252.36 L407.2,252.36 L407.2,245.76 L408.3,245.76 L408.3,244.75 L409.4,244.75 L409.4,243.26 L410.5,243.26 L410.5,241.59 L411.6,241.59 L411.6,238.89 L412.7,238.89 L412.7,235.06 L413.8,235.06 L413.8,228.03 L414.9,228.03 L414.9,219.51 L416,219.51 L416,210.51 L417.1,210.51 L417.1,200.5 L418.2,200.5 L418.2,190.97 L419.3,190.97 L419.3,184.14 L420.4,184.14 L420.4,183.61 L421.5,183.61 L421.5,184.04 L422.6,184.04 L422.6,192.19 L423.7,192.19 L423.7,194.52 L424.8,194.52 L424.8,200.07 L425.9,200.07 L425.9,207.07 L427,207.07 L427,216.23 L428.1,216.23 L428.1,226.72 L429.2,226.72 L429.2,235.79 L430.3,235.79 L430.3,244.83 L431.4,244.83 L431.4,251.68 L432.5,251.68 L432.5,254.75 L433.6,254.75 L433.6,257.08 L434.7,257.08 L434.7,258.45 L435.8,258.45 L435.8,258.96 L436.9,258.96 L436.9,259.53 L438,259.53 L438,259.44 L439.1,259.44 L439.1,259.44 L440.2,259.44 L440.2,259.36 L441.3,259.36 L441.3,259.4 L442.4,259.4 L442.4,259.57 L443.5,259.57 L443.5,258.9 L444.6,258.9 L444.6,258.31 L445.7,258.31 L445.7,258.08 L446.8,258.08 L446.8,257.73 L447.9,257.73 L447.9,258.02 L449,258.02 L449,258.21 L450.1,258.21 L450.1,258.8 L451.2,258.8 L451.2,258.64 L452.3,258.64 L452.3,259.76 L453.4,259.76 L453.4,260.44 L454.5,260.44 L454.5,261.51 L455.6,261.51 L455.6,262.13 L456.7,262.13 L456.7,262.4 L457.8,262.4 L457.8,262.57 L458.9,262.57 L458.9,263.09 L460,263.09 L460,263.33 L461.1,263.33 L461.1,263.65 L462.2,263.65 L462.2,263.89 L463.3,263.89 L463.3,263.59 L464.4,263.59 L464.4,263.76 L465.5,263.76 L465.5,263.91 L466.6,263.91 L466.6,263.84 L467.7,263.84 L467.7,264.19 L468.8,264.19 L468.8,264.16 L469.9,264.16 L469.9,264.01 L471,264.01 L471,264.18 L472.1,264.18 L472.1,264.65 L473.2,264.65 L473.2,264.85 L474.3,264.85 L474.3,264.63 L475.4,264.63 L475.4,264.44 L476.5,264.44 L476.5,264.7 L477.6,264.7 L477.6,264.73 L478.7,264.73 L478.7,264.7 L479.8,264.7 L479.8,264.95 L480.9,264.95 L480.9,264.88 L482,264.88 L482,264.87 L483.1,264.87 L483.1,264.95 L484.2,264.95 L484.2,264.98 L485.3,264.98 L485.3,265.12 L486.4,265.12 L486.4,265.01 L487.5,265.01 L487.5,265.14 L488.6,265.14 L488.6,264.95 L489.7,264.95 L489.7,264.81 L490.8,264.81 L490.8,265.24 L491.9,265.24 L491.9,265.43 L493,265.43 L493,265.24 L494.1,265.24 L494.1,265.16 L495.2,265.16 L495.2,265.1 L496.3,265.1 L496.3,265.11 L497.4,265.11 L497.4,265.36 L498.5,265.36 L498.5,265.38 L499.6,265.38 L499.6,265.15 L500.7,265.15 L500.7,265.46 L501.8,265.46 L501.8,265.21 L502.9,265.21 L502.9,265.39 L504,265.39 L504,265.29 L505.1,265.29 L505.1,265.31 L506.2,265.31 L506.2,265.33 L507.3,265.33 L507.3,265.34 L508.4,265.34 L508.4,265.58 L509.5,265.58 L509.5,265.44 L510.6,265.44 L510.6,265.5 L511.7,265.5 L511.7,265.48 L512.8,265.48 L512.8,265.39 L513.9,265.39 L513.9,265.59 L515,265.59 L515,265.66 L516.1,265.66 L516.1,265.68 L517.2,265.68 L517.2,265.65 L518.3,265.65 L518.3,265.54 L519.4,265.54 L519.4,265.75 L520.5,265.75 L520.5,265.53 L521.6,265.53 L521.6,265.66 L522.7,265.66 L522.7,265.74 L523.8,265.74 L523.8,265.89 L524.9,265.89 L524.9,265.72 L526,265.72 L526,265.69 L527.1,265.69 L527.1,266 L528.2,266 L528.2,265.66 L528.2,265.66 L528.2,266.4 Z" fill="#e38a6f" stroke="none"/>
<path d="M399.8,266.37 L400.52,266.36 L401.24,266.33 L401.96,266.28 L402.67,266.2 L403.39,266.09 L404.11,265.91 L404.83,265.66 L405.55,265.29 L406.27,264.76 L406.99,264.03 L407.71,263.04 L408.42,261.73 L409.14,260.01 L409.86,257.83 L410.58,255.11 L411.3,251.8 L412.02,247.85 L412.74,243.27 L413.45,238.09 L414.17,232.38 L414.89,226.25 L415.61,219.89 L416.33,213.5 L417.05,207.34 L417.77,201.65 L418.48,196.71 L419.2,192.76 L419.92,190 L420.64,188.58 L421.36,188.58 L422.08,190 L422.8,192.76 L423.52,196.71 L424.23,201.65 L424.95,207.34 L425.67,213.5 L426.39,219.89 L427.11,226.25 L427.83,232.38 L428.55,238.09 L429.26,243.27 L429.98,247.85 L430.7,251.8 L431.42,255.11 L432.14,257.83 L432.86,260.01 L433.58,261.73 L434.29,263.04 L435.01,264.03 L435.73,264.76 L436.45,265.29 L437.17,265.66 L437.89,265.91 L438.61,266.09 L439.33,266.2 L440.04,266.28 L440.76,266.33 L441.48,266.36 L442.2,266.37" fill="none" stroke="#a81818" stroke-width="1.1"/>
<path d="M394,266.4 L394,266.4 L395.1,266.4 L395.1,266.4 L396.2,266.4 L396.2,266.4 L397.3,266.4 L397.3,266.4 L398.4,266.4 L398.4,266.4 L399.5,266.4 L399.5,266.4 L400.6,266.4 L400.6,266.4 L401.7,266.4 L401.7,266.4 L402.8,266.4 L402.8,266.23 L403.9,266.23 L403.9,263.38 L405,263.38 L405,257.9 L406.1,257.9 L406.1,252.36 L407.2,252.36 L407.2,245.76 L408.3,245.76 L408.3,244.75 L409.4,244.75 L409.4,243.26 L410.5,243.26 L410.5,241.59 L411.6,241.59 L411.6,238.89 L412.7,238.89 L412.7,235.06 L413.8,235.06 L413.8,228.03 L414.9,228.03 L414.9,219.51 L416,219.51 L416,210.51 L417.1,210.51 L417.1,200.5 L418.2,200.5 L418.2,190.97 L419.3,190.97 L419.3,184.14 L420.4,184.14 L420.4,183.61 L421.5,183.61 L421.5,184.04 L422.6,184.04 L422.6,192.19 L423.7,192.19 L423.7,194.52 L424.8,194.52 L424.8,200.07 L425.9,200.07 L425.9,207.07 L427,207.07 L427,216.23 L428.1,216.23 L428.1,226.72 L429.2,226.72 L429.2,235.79 L430.3,235.79 L430.3,244.83 L431.4,244.83 L431.4,251.68 L432.5,251.68 L432.5,254.75 L433.6,254.75 L433.6,257.08 L434.7,257.08 L434.7,258.45 L435.8,258.45 L435.8,258.96 L436.9,258.96 L436.9,259.53 L438,259.53 L438,259.44 L439.1,259.44 L439.1,259.44 L440.2,259.44 L440.2,259.36 L441.3,259.36 L441.3,259.4 L442.4,259.4 L442.4,259.57 L443.5,259.57 L443.5,258.9 L444.6,258.9 L444.6,258.31 L445.7,258.31 L445.7,258.08 L446.8,258.08 L446.8,257.73 L447.9,257.73 L447.9,258.02 L449,258.02 L449,258.21 L450.1,258.21 L450.1,258.8 L451.2,258.8 L451.2,258.64 L452.3,258.64 L452.3,259.76 L453.4,259.76 L453.4,260.44 L454.5,260.44 L454.5,261.51 L455.6,261.51 L455.6,262.13 L456.7,262.13 L456.7,262.4 L457.8,262.4 L457.8,262.57 L458.9,262.57 L458.9,263.09 L460,263.09 L460,263.33 L461.1,263.33 L461.1,263.65 L462.2,263.65 L462.2,263.89 L463.3,263.89 L463.3,263.59 L464.4,263.59 L464.4,263.76 L465.5,263.76 L465.5,263.91 L466.6,263.91 L466.6,263.84 L467.7,263.84 L467.7,264.19 L468.8,264.19 L468.8,264.16 L469.9,264.16 L469.9,264.01 L471,264.01 L471,264.18 L472.1,264.18 L472.1,264.65 L473.2,264.65 L473.2,264.85 L474.3,264.85 L474.3,264.63 L475.4,264.63 L475.4,264.44 L476.5,264.44 L476.5,264.7 L477.6,264.7 L477.6,264.73 L478.7,264.73 L478.7,264.7 L479.8,264.7 L479.8,264.95 L480.9,264.95 L480.9,264.88 L482,264.88 L482,264.87 L483.1,264.87 L483.1,264.95 L484.2,264.95 L484.2,264.98 L485.3,264.98 L485.3,265.12 L486.4,265.12 L486.4,265.01 L487.5,265.01 L487.5,265.14 L488.6,265.14 L488.6,264.95 L489.7,264.95 L489.7,264.81 L490.8,264.81 L490.8,265.24 L491.9,265.24 L491.9,265.43 L493,265.43 L493,265.24 L494.1,265.24 L494.1,265.16 L495.2,265.16 L495.2,265.1 L496.3,265.1 L496.3,265.11 L497.4,265.11 L497.4,265.36 L498.5,265.36 L498.5,265.38 L499.6,265.38 L499.6,265.15 L500.7,265.15 L500.7,265.46 L501.8,265.46 L501.8,265.21 L502.9,265.21 L502.9,265.39 L504,265.39 L504,265.29 L505.1,265.29 L505.1,265.31 L506.2,265.31 L506.2,265.33 L507.3,265.33 L507.3,265.34 L508.4,265.34 L508.4,265.58 L509.5,265.58 L509.5,265.44 L510.6,265.44 L510.6,265.5 L511.7,265.5 L511.7,265.48 L512.8,265.48 L512.8,265.39 L513.9,265.39 L513.9,265.59 L515,265.59 L515,265.66 L516.1,265.66 L516.1,265.68 L517.2,265.68 L517.2,265.65 L518.3,265.65 L518.3,265.54 L519.4,265.54 L519.4,265.75 L520.5,265.75 L520.5,265.53 L521.6,265.53 L521.6,265.66 L522.7,265.66 L522.7,265.74 L523.8,265.74 L523.8,265.89 L524.9,265.89 L524.9,265.72 L526,265.72 L526,265.69 L527.1,265.69 L527.1,266 L528.2,266 L528.2,265.66 L528.2,265.66 L528.2,266.4" fill="none" stroke="#b8111a" stroke-width="1.35" stroke-linejoin="miter"/>
<line x1="25.5" y1="25" x2="25.5" y2="127.7" stroke="#000" stroke-width="0.9"/>
<line x1="24.3" y1="127.2" x2="25.5" y2="127.2" stroke="#000" stroke-width="0.5"/>
<line x1="24.3" y1="118.54" x2="25.5" y2="118.54" stroke="#000" stroke-width="0.5"/>
<line x1="24.3" y1="109.89" x2="25.5" y2="109.89" stroke="#000" stroke-width="0.5"/>
<line x1="24.3" y1="101.23" x2="25.5" y2="101.23" stroke="#000" stroke-width="0.5"/>
<line x1="24.3" y1="92.58" x2="25.5" y2="92.58" stroke="#000" stroke-width="0.5"/>
<line x1="24.3" y1="83.92" x2="25.5" y2="83.92" stroke="#000" stroke-width="0.5"/>
<line x1="24.3" y1="75.27" x2="25.5" y2="75.27" stroke="#000" stroke-width="0.5"/>
<line x1="24.3" y1="66.61" x2="25.5" y2="66.61" stroke="#000" stroke-width="0.5"/>
<line x1="24.3" y1="57.96" x2="25.5" y2="57.96" stroke="#000" stroke-width="0.5"/>
<line x1="24.3" y1="49.3" x2="25.5" y2="49.3" stroke="#000" stroke-width="0.5"/>
<line x1="24.3" y1="40.64" x2="25.5" y2="40.64" stroke="#000" stroke-width="0.5"/>
<line x1="24.3" y1="31.99" x2="25.5" y2="31.99" stroke="#000" stroke-width="0.5"/>
<line x1="23.9" y1="127.2" x2="25.5" y2="127.2" stroke="#000" stroke-width="0.7"/>
<text x="23" y="128.8" font-size="4.5" text-anchor="end" fill="#444" >0</text>
<line x1="23.9" y1="101.1" x2="25.5" y2="101.1" stroke="#000" stroke-width="0.7"/>
<text x="23" y="102.7" font-size="4.5" text-anchor="end" fill="#444" >150</text>
<line x1="23.9" y1="75.2" x2="25.5" y2="75.2" stroke="#000" stroke-width="0.7"/>
<text x="23" y="76.8" font-size="4.5" text-anchor="end" fill="#444" >300</text>
<line x1="23.9" y1="49.3" x2="25.5" y2="49.3" stroke="#000" stroke-width="0.7"/>
<text x="23" y="50.9" font-size="4.5" text-anchor="end" fill="#444" >450</text>
<line x1="25.5" y1="127.2" x2="25.5" y2="129" stroke="#222" stroke-width="0.6"/>
<text x="25.5" y="133.6" font-size="4.8" text-anchor="middle" fill="#444" >0</text>
<line x1="39.05" y1="127.2" x2="39.05" y2="128.3" stroke="#222" stroke-width="0.5"/>
<line x1="52.6" y1="127.2" x2="52.6" y2="129" stroke="#222" stroke-width="0.6"/>
<text x="52.6" y="133.6" font-size="4.8" text-anchor="middle" fill="#444" >60</text>
<line x1="66.15" y1="127.2" x2="66.15" y2="128.3" stroke="#222" stroke-width="0.5"/>
<line x1="79.7" y1="127.2" x2="79.7" y2="129" stroke="#222" stroke-width="0.6"/>
<text x="79.7" y="133.6" font-size="4.8" text-anchor="middle" fill="#444" >120</text>
<line x1="93.25" y1="127.2" x2="93.25" y2="128.3" stroke="#222" stroke-width="0.5"/>
<line x1="106.8" y1="127.2" x2="106.8" y2="129" stroke="#222" stroke-width="0.6"/>
<text x="106.8" y="133.6" font-size="4.8" text-anchor="middle" fill="#444" >180</text>
<line x1="120.35" y1="127.2" x2="120.35" y2="128.3" stroke="#222" stroke-width="0.5"/>
<line x1="133.9" y1="127.2" x2="133.9" y2="129" stroke="#222" stroke-width="0.6"/>
<text x="133.9" y="133.6" font-size="4.8" text-anchor="middle" fill="#444" >240</text>
<line x1="147.45" y1="127.2" x2="147.45" y2="128.3" stroke="#222" stroke-width="0.5"/>
<line x1="161" y1="127.2" x2="161" y2="129" stroke="#222" stroke-width="0.6"/>
<text x="161" y="133.6" font-size="4.8" text-anchor="middle" fill="#444" >300</text>
<text x="94.6" y="139.3" font-size="4.6" text-anchor="middle" fill="#333" >Mass [kDa]</text>
<text transform="translate(13.1,75.6) rotate(-90)" font-size="4.5" text-anchor="middle" fill="#444">Counts</text>
<text x="45.2" y="30.2" font-size="4.3" text-anchor="middle" fill="#a3323a" >39 kDa</text>
<text x="43.5" y="33.9" font-size="4.3" text-anchor="middle" fill="#a3323a" >σ 6.4</text>
<text x="55.4" y="40.4" font-size="4.3" text-anchor="middle" fill="#a3323a" >57 kDa</text>
<text x="53.5" y="44.3" font-size="4.3" text-anchor="middle" fill="#a3323a" >σ 7.5</text>
<text x="68.7" y="47.6" font-size="4.3" text-anchor="middle" fill="#a3323a" >85 kDa</text>
<text x="67" y="51.8" font-size="4.3" text-anchor="middle" fill="#a3323a" >σ 10.0</text>
<line x1="211.6" y1="25" x2="211.6" y2="127.7" stroke="#000" stroke-width="0.9"/>
<line x1="210.4" y1="127.2" x2="211.6" y2="127.2" stroke="#000" stroke-width="0.5"/>
<line x1="210.4" y1="122.98" x2="211.6" y2="122.98" stroke="#000" stroke-width="0.5"/>
<line x1="210.4" y1="118.76" x2="211.6" y2="118.76" stroke="#000" stroke-width="0.5"/>
<line x1="210.4" y1="114.54" x2="211.6" y2="114.54" stroke="#000" stroke-width="0.5"/>
<line x1="210.4" y1="110.32" x2="211.6" y2="110.32" stroke="#000" stroke-width="0.5"/>
<line x1="210.4" y1="106.1" x2="211.6" y2="106.1" stroke="#000" stroke-width="0.5"/>
<line x1="210.4" y1="101.88" x2="211.6" y2="101.88" stroke="#000" stroke-width="0.5"/>
<line x1="210.4" y1="97.66" x2="211.6" y2="97.66" stroke="#000" stroke-width="0.5"/>
<line x1="210.4" y1="93.44" x2="211.6" y2="93.44" stroke="#000" stroke-width="0.5"/>
<line x1="210.4" y1="89.22" x2="211.6" y2="89.22" stroke="#000" stroke-width="0.5"/>
<line x1="210.4" y1="85" x2="211.6" y2="85" stroke="#000" stroke-width="0.5"/>
<line x1="210.4" y1="80.78" x2="211.6" y2="80.78" stroke="#000" stroke-width="0.5"/>
<line x1="210.4" y1="76.56" x2="211.6" y2="76.56" stroke="#000" stroke-width="0.5"/>
<line x1="210.4" y1="72.34" x2="211.6" y2="72.34" stroke="#000" stroke-width="0.5"/>
<line x1="210.4" y1="68.12" x2="211.6" y2="68.12" stroke="#000" stroke-width="0.5"/>
<line x1="210.4" y1="63.9" x2="211.6" y2="63.9" stroke="#000" stroke-width="0.5"/>
<line x1="210.4" y1="59.68" x2="211.6" y2="59.68" stroke="#000" stroke-width="0.5"/>
<line x1="210.4" y1="55.46" x2="211.6" y2="55.46" stroke="#000" stroke-width="0.5"/>
<line x1="210.4" y1="51.24" x2="211.6" y2="51.24" stroke="#000" stroke-width="0.5"/>
<line x1="210.4" y1="47.02" x2="211.6" y2="47.02" stroke="#000" stroke-width="0.5"/>
<line x1="210.4" y1="42.8" x2="211.6" y2="42.8" stroke="#000" stroke-width="0.5"/>
<line x1="210.4" y1="38.58" x2="211.6" y2="38.58" stroke="#000" stroke-width="0.5"/>
<line x1="210.4" y1="34.36" x2="211.6" y2="34.36" stroke="#000" stroke-width="0.5"/>
<line x1="210.4" y1="30.14" x2="211.6" y2="30.14" stroke="#000" stroke-width="0.5"/>
<line x1="210.4" y1="25.92" x2="211.6" y2="25.92" stroke="#000" stroke-width="0.5"/>
<line x1="210" y1="127.2" x2="211.6" y2="127.2" stroke="#000" stroke-width="0.7"/>
<text x="209.1" y="128.8" font-size="4.5" text-anchor="end" fill="#444" >0</text>
<line x1="210" y1="106.1" x2="211.6" y2="106.1" stroke="#000" stroke-width="0.7"/>
<text x="209.1" y="107.7" font-size="4.5" text-anchor="end" fill="#444" >250</text>
<line x1="210" y1="85" x2="211.6" y2="85" stroke="#000" stroke-width="0.7"/>
<text x="209.1" y="86.6" font-size="4.5" text-anchor="end" fill="#444" >500</text>
<line x1="210" y1="63.9" x2="211.6" y2="63.9" stroke="#000" stroke-width="0.7"/>
<text x="209.1" y="65.5" font-size="4.5" text-anchor="end" fill="#444" >750</text>
<line x1="210" y1="42.8" x2="211.6" y2="42.8" stroke="#000" stroke-width="0.7"/>
<text x="209.1" y="44.4" font-size="4.5" text-anchor="end" fill="#444" >1000</text>
<line x1="211.6" y1="127.2" x2="211.6" y2="129" stroke="#222" stroke-width="0.6"/>
<text x="211.6" y="133.6" font-size="4.8" text-anchor="middle" fill="#444" >0</text>
<line x1="224.97" y1="127.2" x2="224.97" y2="128.3" stroke="#222" stroke-width="0.5"/>
<line x1="238.34" y1="127.2" x2="238.34" y2="129" stroke="#222" stroke-width="0.6"/>
<text x="238.34" y="133.6" font-size="4.8" text-anchor="middle" fill="#444" >60</text>
<line x1="251.71" y1="127.2" x2="251.71" y2="128.3" stroke="#222" stroke-width="0.5"/>
<line x1="265.08" y1="127.2" x2="265.08" y2="129" stroke="#222" stroke-width="0.6"/>
<text x="265.08" y="133.6" font-size="4.8" text-anchor="middle" fill="#444" >120</text>
<line x1="278.45" y1="127.2" x2="278.45" y2="128.3" stroke="#222" stroke-width="0.5"/>
<line x1="291.82" y1="127.2" x2="291.82" y2="129" stroke="#222" stroke-width="0.6"/>
<text x="291.82" y="133.6" font-size="4.8" text-anchor="middle" fill="#444" >180</text>
<line x1="305.19" y1="127.2" x2="305.19" y2="128.3" stroke="#222" stroke-width="0.5"/>
<line x1="318.56" y1="127.2" x2="318.56" y2="129" stroke="#222" stroke-width="0.6"/>
<text x="318.56" y="133.6" font-size="4.8" text-anchor="middle" fill="#444" >240</text>
<line x1="331.93" y1="127.2" x2="331.93" y2="128.3" stroke="#222" stroke-width="0.5"/>
<line x1="345.3" y1="127.2" x2="345.3" y2="129" stroke="#222" stroke-width="0.6"/>
<text x="345.3" y="133.6" font-size="4.8" text-anchor="middle" fill="#444" >300</text>
<text x="279.5" y="139.3" font-size="4.6" text-anchor="middle" fill="#333" >Mass [kDa]</text>
<text transform="translate(196.7,75.6) rotate(-90)" font-size="4.5" text-anchor="middle" fill="#444">Counts</text>
<text x="239.4" y="35.1" font-size="4.3" text-anchor="middle" fill="#a3323a" >57 kDa</text>
<text x="238.5" y="39.3" font-size="4.3" text-anchor="middle" fill="#a3323a" >σ 11.4</text>
<text x="261" y="72" font-size="4.3" text-anchor="middle" fill="#a3323a" >106 kDa</text>
<text x="259.5" y="76.4" font-size="4.3" text-anchor="middle" fill="#a3323a" >σ 23</text>
<line x1="28" y1="164.5" x2="28" y2="266.5" stroke="#000" stroke-width="0.9"/>
<line x1="26.8" y1="266" x2="28" y2="266" stroke="#000" stroke-width="0.5"/>
<line x1="26.8" y1="261.39" x2="28" y2="261.39" stroke="#000" stroke-width="0.5"/>
<line x1="26.8" y1="256.79" x2="28" y2="256.79" stroke="#000" stroke-width="0.5"/>
<line x1="26.8" y1="252.19" x2="28" y2="252.19" stroke="#000" stroke-width="0.5"/>
<line x1="26.8" y1="247.58" x2="28" y2="247.58" stroke="#000" stroke-width="0.5"/>
<line x1="26.8" y1="242.97" x2="28" y2="242.97" stroke="#000" stroke-width="0.5"/>
<line x1="26.8" y1="238.37" x2="28" y2="238.37" stroke="#000" stroke-width="0.5"/>
<line x1="26.8" y1="233.77" x2="28" y2="233.77" stroke="#000" stroke-width="0.5"/>
<line x1="26.8" y1="229.16" x2="28" y2="229.16" stroke="#000" stroke-width="0.5"/>
<line x1="26.8" y1="224.56" x2="28" y2="224.56" stroke="#000" stroke-width="0.5"/>
<line x1="26.8" y1="219.95" x2="28" y2="219.95" stroke="#000" stroke-width="0.5"/>
<line x1="26.8" y1="215.34" x2="28" y2="215.34" stroke="#000" stroke-width="0.5"/>
<line x1="26.8" y1="210.74" x2="28" y2="210.74" stroke="#000" stroke-width="0.5"/>
<line x1="26.8" y1="206.13" x2="28" y2="206.13" stroke="#000" stroke-width="0.5"/>
<line x1="26.8" y1="201.53" x2="28" y2="201.53" stroke="#000" stroke-width="0.5"/>
<line x1="26.8" y1="196.93" x2="28" y2="196.93" stroke="#000" stroke-width="0.5"/>
<line x1="26.8" y1="192.32" x2="28" y2="192.32" stroke="#000" stroke-width="0.5"/>
<line x1="26.8" y1="187.72" x2="28" y2="187.72" stroke="#000" stroke-width="0.5"/>
<line x1="26.8" y1="183.11" x2="28" y2="183.11" stroke="#000" stroke-width="0.5"/>
<line x1="26.8" y1="178.5" x2="28" y2="178.5" stroke="#000" stroke-width="0.5"/>
<line x1="26.8" y1="173.9" x2="28" y2="173.9" stroke="#000" stroke-width="0.5"/>
<line x1="26.8" y1="169.3" x2="28" y2="169.3" stroke="#000" stroke-width="0.5"/>
<line x1="26.8" y1="164.69" x2="28" y2="164.69" stroke="#000" stroke-width="0.5"/>
<line x1="26.4" y1="266" x2="28" y2="266" stroke="#000" stroke-width="0.7"/>
<text x="25.5" y="267.6" font-size="4.5" text-anchor="end" fill="#444" >0</text>
<line x1="26.4" y1="243.1" x2="28" y2="243.1" stroke="#000" stroke-width="0.7"/>
<text x="25.5" y="244.7" font-size="4.5" text-anchor="end" fill="#444" >250</text>
<line x1="26.4" y1="220.2" x2="28" y2="220.2" stroke="#000" stroke-width="0.7"/>
<text x="25.5" y="221.8" font-size="4.5" text-anchor="end" fill="#444" >500</text>
<line x1="26.4" y1="197.3" x2="28" y2="197.3" stroke="#000" stroke-width="0.7"/>
<text x="25.5" y="198.9" font-size="4.5" text-anchor="end" fill="#444" >750</text>
<line x1="26.4" y1="173.9" x2="28" y2="173.9" stroke="#000" stroke-width="0.7"/>
<text x="25.5" y="175.5" font-size="4.5" text-anchor="end" fill="#444" >1000</text>
<line x1="28" y1="266" x2="28" y2="267.8" stroke="#222" stroke-width="0.6"/>
<text x="28" y="272.4" font-size="4.8" text-anchor="middle" fill="#444" >0</text>
<line x1="41.24" y1="266" x2="41.24" y2="267.1" stroke="#222" stroke-width="0.5"/>
<line x1="54.48" y1="266" x2="54.48" y2="267.8" stroke="#222" stroke-width="0.6"/>
<text x="54.48" y="272.4" font-size="4.8" text-anchor="middle" fill="#444" >60</text>
<line x1="67.72" y1="266" x2="67.72" y2="267.1" stroke="#222" stroke-width="0.5"/>
<line x1="80.96" y1="266" x2="80.96" y2="267.8" stroke="#222" stroke-width="0.6"/>
<text x="80.96" y="272.4" font-size="4.8" text-anchor="middle" fill="#444" >120</text>
<line x1="94.2" y1="266" x2="94.2" y2="267.1" stroke="#222" stroke-width="0.5"/>
<line x1="107.44" y1="266" x2="107.44" y2="267.8" stroke="#222" stroke-width="0.6"/>
<text x="107.44" y="272.4" font-size="4.8" text-anchor="middle" fill="#444" >180</text>
<line x1="120.68" y1="266" x2="120.68" y2="267.1" stroke="#222" stroke-width="0.5"/>
<line x1="133.92" y1="266" x2="133.92" y2="267.8" stroke="#222" stroke-width="0.6"/>
<text x="133.92" y="272.4" font-size="4.8" text-anchor="middle" fill="#444" >240</text>
<line x1="147.16" y1="266" x2="147.16" y2="267.1" stroke="#222" stroke-width="0.5"/>
<line x1="160.4" y1="266" x2="160.4" y2="267.8" stroke="#222" stroke-width="0.6"/>
<text x="160.4" y="272.4" font-size="4.8" text-anchor="middle" fill="#444" >300</text>
<text x="94.8" y="278.1" font-size="4.6" text-anchor="middle" fill="#333" >Mass [kDa]</text>
<text transform="translate(13.1,214.9) rotate(-90)" font-size="4.5" text-anchor="middle" fill="#444">Counts</text>
<text x="42.1" y="247.6" font-size="4.3" text-anchor="middle" fill="#a3323a" >32 kDa</text>
<text x="41.7" y="251.7" font-size="4.3" text-anchor="middle" fill="#a3323a" >σ 5.7</text>
<text x="67.6" y="171.5" font-size="4.3" text-anchor="middle" fill="#a3323a" >91 kDa</text>
<text x="67.4" y="175.3" font-size="4.3" text-anchor="middle" fill="#a3323a" >σ 10.6</text>
<text x="103" y="252.7" font-size="4.3" text-anchor="middle" fill="#a3323a" >162 kDa</text>
<text x="101.9" y="256.9" font-size="4.3" text-anchor="middle" fill="#a3323a" >σ 13.5</text>
<line x1="209.3" y1="164.5" x2="209.3" y2="266.5" stroke="#000" stroke-width="0.9"/>
<line x1="208.1" y1="266" x2="209.3" y2="266" stroke="#000" stroke-width="0.5"/>
<line x1="208.1" y1="257.85" x2="209.3" y2="257.85" stroke="#000" stroke-width="0.5"/>
<line x1="208.1" y1="249.7" x2="209.3" y2="249.7" stroke="#000" stroke-width="0.5"/>
<line x1="208.1" y1="241.55" x2="209.3" y2="241.55" stroke="#000" stroke-width="0.5"/>
<line x1="208.1" y1="233.4" x2="209.3" y2="233.4" stroke="#000" stroke-width="0.5"/>
<line x1="208.1" y1="225.25" x2="209.3" y2="225.25" stroke="#000" stroke-width="0.5"/>
<line x1="208.1" y1="217.1" x2="209.3" y2="217.1" stroke="#000" stroke-width="0.5"/>
<line x1="208.1" y1="208.95" x2="209.3" y2="208.95" stroke="#000" stroke-width="0.5"/>
<line x1="208.1" y1="200.8" x2="209.3" y2="200.8" stroke="#000" stroke-width="0.5"/>
<line x1="208.1" y1="192.65" x2="209.3" y2="192.65" stroke="#000" stroke-width="0.5"/>
<line x1="208.1" y1="184.5" x2="209.3" y2="184.5" stroke="#000" stroke-width="0.5"/>
<line x1="208.1" y1="176.35" x2="209.3" y2="176.35" stroke="#000" stroke-width="0.5"/>
<line x1="208.1" y1="168.2" x2="209.3" y2="168.2" stroke="#000" stroke-width="0.5"/>
<line x1="207.7" y1="266" x2="209.3" y2="266" stroke="#000" stroke-width="0.7"/>
<text x="206.8" y="267.6" font-size="4.5" text-anchor="end" fill="#444" >0</text>
<line x1="207.7" y1="242" x2="209.3" y2="242" stroke="#000" stroke-width="0.7"/>
<text x="206.8" y="243.6" font-size="4.5" text-anchor="end" fill="#444" >150</text>
<line x1="207.7" y1="217.2" x2="209.3" y2="217.2" stroke="#000" stroke-width="0.7"/>
<text x="206.8" y="218.8" font-size="4.5" text-anchor="end" fill="#444" >300</text>
<line x1="207.7" y1="192.4" x2="209.3" y2="192.4" stroke="#000" stroke-width="0.7"/>
<text x="206.8" y="194" font-size="4.5" text-anchor="end" fill="#444" >450</text>
<line x1="207.7" y1="168.2" x2="209.3" y2="168.2" stroke="#000" stroke-width="0.7"/>
<text x="206.8" y="169.8" font-size="4.5" text-anchor="end" fill="#444" >600</text>
<line x1="209.3" y1="266" x2="209.3" y2="267.8" stroke="#222" stroke-width="0.6"/>
<text x="209.3" y="272.4" font-size="4.8" text-anchor="middle" fill="#444" >0</text>
<line x1="222.9" y1="266" x2="222.9" y2="267.1" stroke="#222" stroke-width="0.5"/>
<line x1="236.5" y1="266" x2="236.5" y2="267.8" stroke="#222" stroke-width="0.6"/>
<text x="236.5" y="272.4" font-size="4.8" text-anchor="middle" fill="#444" >60</text>
<line x1="250.1" y1="266" x2="250.1" y2="267.1" stroke="#222" stroke-width="0.5"/>
<line x1="263.7" y1="266" x2="263.7" y2="267.8" stroke="#222" stroke-width="0.6"/>
<text x="263.7" y="272.4" font-size="4.8" text-anchor="middle" fill="#444" >120</text>
<line x1="277.3" y1="266" x2="277.3" y2="267.1" stroke="#222" stroke-width="0.5"/>
<line x1="290.9" y1="266" x2="290.9" y2="267.8" stroke="#222" stroke-width="0.6"/>
<text x="290.9" y="272.4" font-size="4.8" text-anchor="middle" fill="#444" >180</text>
<line x1="304.5" y1="266" x2="304.5" y2="267.1" stroke="#222" stroke-width="0.5"/>
<line x1="318.1" y1="266" x2="318.1" y2="267.8" stroke="#222" stroke-width="0.6"/>
<text x="318.1" y="272.4" font-size="4.8" text-anchor="middle" fill="#444" >240</text>
<line x1="331.7" y1="266" x2="331.7" y2="267.1" stroke="#222" stroke-width="0.5"/>
<line x1="345.3" y1="266" x2="345.3" y2="267.8" stroke="#222" stroke-width="0.6"/>
<text x="345.3" y="272.4" font-size="4.8" text-anchor="middle" fill="#444" >300</text>
<text x="279.5" y="278.1" font-size="4.6" text-anchor="middle" fill="#333" >Mass [kDa]</text>
<text transform="translate(196.7,214.9) rotate(-90)" font-size="4.5" text-anchor="middle" fill="#444">Counts</text>
<text x="236.9" y="173.2" font-size="4.3" text-anchor="middle" fill="#a3323a" >58 kDa</text>
<text x="236.4" y="176.9" font-size="4.3" text-anchor="middle" fill="#a3323a" >σ 11.5</text>
<text x="259.3" y="175.2" font-size="4.3" text-anchor="middle" fill="#a3323a" >107 kDa</text>
<text x="256.5" y="179.7" font-size="4.3" text-anchor="middle" fill="#a3323a" >σ 60</text>
<line x1="394" y1="169.6" x2="394" y2="266.9" stroke="#000" stroke-width="0.9"/>
<line x1="392.8" y1="266.4" x2="394" y2="266.4" stroke="#000" stroke-width="0.5"/>
<line x1="392.8" y1="263.2" x2="394" y2="263.2" stroke="#000" stroke-width="0.5"/>
<line x1="392.8" y1="259.99" x2="394" y2="259.99" stroke="#000" stroke-width="0.5"/>
<line x1="392.8" y1="256.79" x2="394" y2="256.79" stroke="#000" stroke-width="0.5"/>
<line x1="392.8" y1="253.59" x2="394" y2="253.59" stroke="#000" stroke-width="0.5"/>
<line x1="392.8" y1="250.38" x2="394" y2="250.38" stroke="#000" stroke-width="0.5"/>
<line x1="392.8" y1="247.18" x2="394" y2="247.18" stroke="#000" stroke-width="0.5"/>
<line x1="392.8" y1="243.98" x2="394" y2="243.98" stroke="#000" stroke-width="0.5"/>
<line x1="392.8" y1="240.77" x2="394" y2="240.77" stroke="#000" stroke-width="0.5"/>
<line x1="392.8" y1="237.57" x2="394" y2="237.57" stroke="#000" stroke-width="0.5"/>
<line x1="392.8" y1="234.37" x2="394" y2="234.37" stroke="#000" stroke-width="0.5"/>
<line x1="392.8" y1="231.16" x2="394" y2="231.16" stroke="#000" stroke-width="0.5"/>
<line x1="392.8" y1="227.96" x2="394" y2="227.96" stroke="#000" stroke-width="0.5"/>
<line x1="392.8" y1="224.76" x2="394" y2="224.76" stroke="#000" stroke-width="0.5"/>
<line x1="392.8" y1="221.55" x2="394" y2="221.55" stroke="#000" stroke-width="0.5"/>
<line x1="392.8" y1="218.35" x2="394" y2="218.35" stroke="#000" stroke-width="0.5"/>
<line x1="392.8" y1="215.15" x2="394" y2="215.15" stroke="#000" stroke-width="0.5"/>
<line x1="392.8" y1="211.94" x2="394" y2="211.94" stroke="#000" stroke-width="0.5"/>
<line x1="392.8" y1="208.74" x2="394" y2="208.74" stroke="#000" stroke-width="0.5"/>
<line x1="392.8" y1="205.54" x2="394" y2="205.54" stroke="#000" stroke-width="0.5"/>
<line x1="392.8" y1="202.33" x2="394" y2="202.33" stroke="#000" stroke-width="0.5"/>
<line x1="392.8" y1="199.13" x2="394" y2="199.13" stroke="#000" stroke-width="0.5"/>
<line x1="392.8" y1="195.93" x2="394" y2="195.93" stroke="#000" stroke-width="0.5"/>
<line x1="392.8" y1="192.72" x2="394" y2="192.72" stroke="#000" stroke-width="0.5"/>
<line x1="392.8" y1="189.52" x2="394" y2="189.52" stroke="#000" stroke-width="0.5"/>
<line x1="392.8" y1="186.32" x2="394" y2="186.32" stroke="#000" stroke-width="0.5"/>
<line x1="392.8" y1="183.11" x2="394" y2="183.11" stroke="#000" stroke-width="0.5"/>
<line x1="392.8" y1="179.91" x2="394" y2="179.91" stroke="#000" stroke-width="0.5"/>
<line x1="392.8" y1="176.71" x2="394" y2="176.71" stroke="#000" stroke-width="0.5"/>
<line x1="392.8" y1="173.5" x2="394" y2="173.5" stroke="#000" stroke-width="0.5"/>
<line x1="392.8" y1="170.3" x2="394" y2="170.3" stroke="#000" stroke-width="0.5"/>
<line x1="392.4" y1="266.4" x2="394" y2="266.4" stroke="#000" stroke-width="0.7"/>
<text x="391.5" y="268" font-size="4.5" text-anchor="end" fill="#444" >0</text>
<line x1="392.4" y1="250.5" x2="394" y2="250.5" stroke="#000" stroke-width="0.7"/>
<text x="391.5" y="252.1" font-size="4.5" text-anchor="end" fill="#444" >250</text>
<line x1="392.4" y1="234.3" x2="394" y2="234.3" stroke="#000" stroke-width="0.7"/>
<text x="391.5" y="235.9" font-size="4.5" text-anchor="end" fill="#444" >500</text>
<line x1="392.4" y1="218.1" x2="394" y2="218.1" stroke="#000" stroke-width="0.7"/>
<text x="391.5" y="219.7" font-size="4.5" text-anchor="end" fill="#444" >750</text>
<line x1="392.4" y1="202.2" x2="394" y2="202.2" stroke="#000" stroke-width="0.7"/>
<text x="391.5" y="203.8" font-size="4.5" text-anchor="end" fill="#444" >1000</text>
<line x1="392.4" y1="186.2" x2="394" y2="186.2" stroke="#000" stroke-width="0.7"/>
<text x="391.5" y="187.8" font-size="4.5" text-anchor="end" fill="#444" >1250</text>
<line x1="392.4" y1="170.3" x2="394" y2="170.3" stroke="#000" stroke-width="0.7"/>
<text x="391.5" y="171.9" font-size="4.5" text-anchor="end" fill="#444" >1500</text>
<line x1="394" y1="266.4" x2="394" y2="268.2" stroke="#222" stroke-width="0.6"/>
<text x="394" y="272.8" font-size="4.8" text-anchor="middle" fill="#444" >0</text>
<line x1="405.18" y1="266.4" x2="405.18" y2="267.5" stroke="#222" stroke-width="0.5"/>
<line x1="416.37" y1="266.4" x2="416.37" y2="268.2" stroke="#222" stroke-width="0.6"/>
<text x="416.37" y="272.8" font-size="4.8" text-anchor="middle" fill="#444" >50</text>
<line x1="427.55" y1="266.4" x2="427.55" y2="267.5" stroke="#222" stroke-width="0.5"/>
<line x1="438.73" y1="266.4" x2="438.73" y2="268.2" stroke="#222" stroke-width="0.6"/>
<text x="438.73" y="272.8" font-size="4.8" text-anchor="middle" fill="#444" >100</text>
<line x1="449.92" y1="266.4" x2="449.92" y2="267.5" stroke="#222" stroke-width="0.5"/>
<line x1="461.1" y1="266.4" x2="461.1" y2="268.2" stroke="#222" stroke-width="0.6"/>
<text x="461.1" y="272.8" font-size="4.8" text-anchor="middle" fill="#444" >150</text>
<line x1="472.28" y1="266.4" x2="472.28" y2="267.5" stroke="#222" stroke-width="0.5"/>
<line x1="483.47" y1="266.4" x2="483.47" y2="268.2" stroke="#222" stroke-width="0.6"/>
<text x="483.47" y="272.8" font-size="4.8" text-anchor="middle" fill="#444" >200</text>
<line x1="494.65" y1="266.4" x2="494.65" y2="267.5" stroke="#222" stroke-width="0.5"/>
<line x1="505.83" y1="266.4" x2="505.83" y2="268.2" stroke="#222" stroke-width="0.6"/>
<text x="505.83" y="272.8" font-size="4.8" text-anchor="middle" fill="#444" >250</text>
<line x1="517.02" y1="266.4" x2="517.02" y2="267.5" stroke="#222" stroke-width="0.5"/>
<line x1="528.2" y1="266.4" x2="528.2" y2="268.2" stroke="#222" stroke-width="0.6"/>
<text x="528.2" y="272.8" font-size="4.8" text-anchor="middle" fill="#444" >300</text>
<text x="462.5" y="278.5" font-size="4.6" text-anchor="middle" fill="#333" >Mass [kDa]</text>
<text transform="translate(379.7,217.5) rotate(-90)" font-size="4.5" text-anchor="middle" fill="#444">Counts</text>
<text x="421.5" y="177" font-size="4.3" text-anchor="middle" fill="#a3323a" >61 kDa</text>
<text x="421.4" y="181.4" font-size="4.3" text-anchor="middle" fill="#a3323a" >σ 12.8</text>
<text x="68.8" y="25.8" font-size="6.9" fill="#000" stroke="#000" stroke-width="0.2">AexT<tspan font-size="4.21" dy="2.3">ART</tspan><tspan dy="-2.3">:14-3-3β</tspan></text>
<text x="253.5" y="25.5" font-size="7.0" fill="#000" stroke="#000" stroke-width="0.2">AexT<tspan font-size="4.27" dy="2.3">FL</tspan><tspan dy="-2.3">:14-3-3β</tspan></text>
<text x="67.9" y="164.4" font-size="7.0" fill="#000" stroke="#000" stroke-width="0.2">ExoT<tspan font-size="4.27" dy="2.3">ART</tspan><tspan dy="-2.3">:14-3-3β</tspan></text>
<text x="256.6" y="164.1" font-size="7.05" fill="#000" stroke="#000" stroke-width="0.2">ExoT<tspan font-size="4.30" dy="2.3">FL</tspan><tspan dy="-2.3">:14-3-3β</tspan></text>
<text x="445.6" y="164" font-size="7.1" fill="#000" stroke="#000" stroke-width="0.2">14-3-3β</text>
<text x="65" y="307.9" font-size="7.3" fill="#000" stroke="#000" stroke-width="0.2">AexT<tspan font-size="4.45" dy="2.3">ART</tspan><tspan dy="-2.3">:14-3-3β</tspan></text>
<text x="251.3" y="307.8" font-size="7.4" fill="#000" stroke="#000" stroke-width="0.2">ExoT<tspan font-size="4.51" dy="2.3">ART</tspan><tspan dy="-2.3">:14-3-3β</tspan></text>
<text x="445.8" y="309.4" font-size="7.4" fill="#000" stroke="#000" stroke-width="0.2">14-3-3β</text>
<text x="6.5" y="21.7" font-size="23.5" fill="#000" stroke="#000" stroke-width="0.35">a</text>
<text x="187.6" y="21.9" font-size="23.5" fill="#000" stroke="#000" stroke-width="0.35">b</text>
<text x="6.7" y="160.75" font-size="23.5" fill="#000" stroke="#000" stroke-width="0.35">c</text>
<text x="187.8" y="160.8" font-size="23.5" fill="#000" stroke="#000" stroke-width="0.35">d</text>
<text x="371.7" y="160.5" font-size="23.5" fill="#000" stroke="#000" stroke-width="0.35">e</text>
<text x="7.1" y="303.6" font-size="23.5" fill="#000" stroke="#000" stroke-width="0.35">f</text>
<text x="187.5" y="303.85" font-size="23.5" fill="#000" stroke="#000" stroke-width="0.35">g</text>
<text x="372.2" y="303.6" font-size="23.5" fill="#000" stroke="#000" stroke-width="0.35">h</text>
<line x1="28.5" y1="318.6" x2="28.5" y2="404.15" stroke="#000" stroke-width="0.9"/>
<line x1="25.5" y1="396.2" x2="28.5" y2="396.2" stroke="#000" stroke-width="0.8"/>
<text x="24.3" y="398.55" font-size="6.6" text-anchor="end" fill="#111" >0</text>
<line x1="25.5" y1="376.8" x2="28.5" y2="376.8" stroke="#000" stroke-width="0.8"/>
<text x="24.3" y="379.15" font-size="6.6" text-anchor="end" fill="#111" >50</text>
<line x1="25.5" y1="357.4" x2="28.5" y2="357.4" stroke="#000" stroke-width="0.8"/>
<text x="24.3" y="359.75" font-size="6.6" text-anchor="end" fill="#111" >100</text>
<line x1="25.5" y1="338" x2="28.5" y2="338" stroke="#000" stroke-width="0.8"/>
<text x="24.3" y="340.35" font-size="6.6" text-anchor="end" fill="#111" >150</text>
<line x1="25.5" y1="318.6" x2="28.5" y2="318.6" stroke="#000" stroke-width="0.8"/>
<text x="24.3" y="320.95" font-size="6.6" text-anchor="end" fill="#111" >200</text>
<line x1="28.5" y1="403.7" x2="156.3" y2="403.7" stroke="#000" stroke-width="0.9"/>
<line x1="28.89" y1="403.7" x2="28.89" y2="405" stroke="#000" stroke-width="0.6"/>
<line x1="38.63" y1="403.7" x2="38.63" y2="405.9" stroke="#000" stroke-width="0.8"/>
<text x="38.63" y="414.3" font-size="6.6" text-anchor="middle" fill="#111" >11</text>
<line x1="48.37" y1="403.7" x2="48.37" y2="405" stroke="#000" stroke-width="0.6"/>
<line x1="58.11" y1="403.7" x2="58.11" y2="405" stroke="#000" stroke-width="0.6"/>
<line x1="67.85" y1="403.7" x2="67.85" y2="405" stroke="#000" stroke-width="0.6"/>
<line x1="77.59" y1="403.7" x2="77.59" y2="405.9" stroke="#000" stroke-width="0.8"/>
<text x="77.59" y="414.3" font-size="6.6" text-anchor="middle" fill="#111" >12</text>
<line x1="87.33" y1="403.7" x2="87.33" y2="405" stroke="#000" stroke-width="0.6"/>
<line x1="97.08" y1="403.7" x2="97.08" y2="405" stroke="#000" stroke-width="0.6"/>
<line x1="106.82" y1="403.7" x2="106.82" y2="405" stroke="#000" stroke-width="0.6"/>
<line x1="116.56" y1="403.7" x2="116.56" y2="405.9" stroke="#000" stroke-width="0.8"/>
<text x="116.56" y="414.3" font-size="6.6" text-anchor="middle" fill="#111" >13</text>
<line x1="126.3" y1="403.7" x2="126.3" y2="405" stroke="#000" stroke-width="0.6"/>
<line x1="136.04" y1="403.7" x2="136.04" y2="405" stroke="#000" stroke-width="0.6"/>
<line x1="145.78" y1="403.7" x2="145.78" y2="405" stroke="#000" stroke-width="0.6"/>
<line x1="155.52" y1="403.7" x2="155.52" y2="405.9" stroke="#000" stroke-width="0.8"/>
<text x="155.52" y="414.3" font-size="6.6" text-anchor="middle" fill="#111" >14</text>
<line x1="156.3" y1="318.6" x2="156.3" y2="404.15" stroke="#000" stroke-width="0.9"/>
<line x1="156.3" y1="403.7" x2="158.3" y2="403.7" stroke="#000" stroke-width="0.8"/>
<text x="160.5" y="405.8" font-size="6.0" fill="#c8404e">10<tspan font-size="4.3" dy="-2.0">3</tspan></text>
<line x1="155.2" y1="395.16" x2="156.3" y2="395.16" stroke="#000" stroke-width="0.5"/>
<line x1="155.2" y1="390.17" x2="156.3" y2="390.17" stroke="#000" stroke-width="0.5"/>
<line x1="155.2" y1="386.62" x2="156.3" y2="386.62" stroke="#000" stroke-width="0.5"/>
<line x1="155.2" y1="383.87" x2="156.3" y2="383.87" stroke="#000" stroke-width="0.5"/>
<line x1="155.2" y1="381.63" x2="156.3" y2="381.63" stroke="#000" stroke-width="0.5"/>
<line x1="155.2" y1="379.73" x2="156.3" y2="379.73" stroke="#000" stroke-width="0.5"/>
<line x1="155.2" y1="378.08" x2="156.3" y2="378.08" stroke="#000" stroke-width="0.5"/>
<line x1="155.2" y1="376.63" x2="156.3" y2="376.63" stroke="#000" stroke-width="0.5"/>
<line x1="156.3" y1="375.33" x2="158.3" y2="375.33" stroke="#000" stroke-width="0.8"/>
<text x="160.5" y="377.43" font-size="6.0" fill="#c8404e">10<tspan font-size="4.3" dy="-2.0">4</tspan></text>
<line x1="155.2" y1="366.79" x2="156.3" y2="366.79" stroke="#000" stroke-width="0.5"/>
<line x1="155.2" y1="361.8" x2="156.3" y2="361.8" stroke="#000" stroke-width="0.5"/>
<line x1="155.2" y1="358.25" x2="156.3" y2="358.25" stroke="#000" stroke-width="0.5"/>
<line x1="155.2" y1="355.51" x2="156.3" y2="355.51" stroke="#000" stroke-width="0.5"/>
<line x1="155.2" y1="353.26" x2="156.3" y2="353.26" stroke="#000" stroke-width="0.5"/>
<line x1="155.2" y1="351.36" x2="156.3" y2="351.36" stroke="#000" stroke-width="0.5"/>
<line x1="155.2" y1="349.72" x2="156.3" y2="349.72" stroke="#000" stroke-width="0.5"/>
<line x1="155.2" y1="348.26" x2="156.3" y2="348.26" stroke="#000" stroke-width="0.5"/>
<line x1="156.3" y1="346.97" x2="158.3" y2="346.97" stroke="#000" stroke-width="0.8"/>
<text x="160.5" y="349.07" font-size="6.0" fill="#c8404e">10<tspan font-size="4.3" dy="-2.0">5</tspan></text>
<line x1="155.2" y1="338.43" x2="156.3" y2="338.43" stroke="#000" stroke-width="0.5"/>
<line x1="155.2" y1="333.43" x2="156.3" y2="333.43" stroke="#000" stroke-width="0.5"/>
<line x1="155.2" y1="329.89" x2="156.3" y2="329.89" stroke="#000" stroke-width="0.5"/>
<line x1="155.2" y1="327.14" x2="156.3" y2="327.14" stroke="#000" stroke-width="0.5"/>
<line x1="155.2" y1="324.89" x2="156.3" y2="324.89" stroke="#000" stroke-width="0.5"/>
<line x1="155.2" y1="322.99" x2="156.3" y2="322.99" stroke="#000" stroke-width="0.5"/>
<line x1="155.2" y1="321.35" x2="156.3" y2="321.35" stroke="#000" stroke-width="0.5"/>
<line x1="155.2" y1="319.9" x2="156.3" y2="319.9" stroke="#000" stroke-width="0.5"/>
<line x1="156.3" y1="318.6" x2="158.3" y2="318.6" stroke="#000" stroke-width="0.8"/>
<text x="160.5" y="320.7" font-size="6.0" fill="#c8404e">10<tspan font-size="4.3" dy="-2.0">6</tspan></text>
<text transform="translate(9.5,361.6) rotate(-90)" font-size="5.45" text-anchor="middle" fill="#000">Refractive index (mV)</text>
<text transform="translate(173.7,363) rotate(90)" font-size="5.6" text-anchor="middle" fill="#c8404e">Molecular weight (g/mol)</text>
<text x="89.4" y="421.9" font-size="5.6" text-anchor="middle" fill="#111" >Retention volume (ml)</text>
<path d="M28.5,395.4 C32.08,395.42 42.77,395.5 50,395.5 C57.23,395.5 67.57,395.57 71.9,395.4 C76.23,395.23 74.68,395 76,394.5 C77.32,394 78.5,393.4 79.8,392.4 C81.1,391.4 82.3,389.55 83.8,388.5 C85.3,387.45 87.43,386.45 88.8,386.1 C90.17,385.75 90.85,386.18 92,386.4 C93.15,386.62 94.93,387.27 95.7,387.4 C96.47,387.53 96.03,388.05 96.6,387.2 C97.17,386.35 98.42,384.48 99.1,382.3 C99.78,380.12 100.15,377.38 100.7,374.1 C101.25,370.82 101.85,366.15 102.4,362.6 C102.95,359.05 103.47,356.07 104,352.8 C104.53,349.53 105.05,345.72 105.6,343 C106.15,340.28 106.75,338.18 107.3,336.5 C107.85,334.82 108.37,333.67 108.9,332.9 C109.43,332.13 109.95,331.9 110.5,331.9 C111.05,331.9 111.65,332 112.2,332.9 C112.75,333.8 113.25,335.35 113.8,337.3 C114.35,339.25 114.95,341.73 115.5,344.6 C116.05,347.47 116.57,351.22 117.1,354.5 C117.63,357.78 118.15,361.3 118.7,364.3 C119.25,367.3 119.72,370.05 120.4,372.5 C121.08,374.95 121.85,377.1 122.8,379 C123.75,380.9 124.87,382.4 126.1,383.9 C127.33,385.4 128.7,386.9 130.2,388 C131.7,389.1 133.57,389.73 135.1,390.5 C136.63,391.27 137.03,391.88 139.4,392.6 C141.77,393.32 146.53,394.37 149.3,394.8 C152.07,395.23 154.88,395.13 156,395.2" fill="none" stroke="#111" stroke-width="1.1" stroke-linejoin="round"/>
<path d="M31,338.88 L32.25,336.99 L33.51,339.35 L34.76,339.07 L36.01,340.7 L37.27,339.02 L38.52,340.95 L39.77,339.67 L41.03,341.49 L42.28,339.87 L43.53,342.32 L44.79,340.87 L46.04,342.88 L47.29,341.68 L48.55,343.77 L49.8,343.39" fill="none" stroke="#93223d" stroke-width="1.35" stroke-linejoin="round"/>
<path d="M71.9,346.76 L72.59,346.34 L73.28,345.91 L73.97,345.37 L74.66,345.32 L75.34,345.13 L76.03,344.96 L76.72,344.93 L77.41,344.67 L78.1,344.64 L78.79,344.52 L79.48,344.52 L80.17,344.39 L80.86,344.36 L81.54,344.41 L82.23,344.32 L82.92,344.26 L83.61,344.19 L84.3,344.22 L84.99,344.13 L85.68,344.14 L86.37,344.19 L87.06,344.16 L87.74,344.16 L88.43,344.2 L89.12,344.19 L89.81,344.19 L90.5,344.28 L91.19,344.25 L91.88,344.31 L92.57,344.45 L93.26,344.62 L93.94,344.77 L94.63,345.06 L95.32,345.34 L96.01,345.8 L96.7,346.24" fill="none" stroke="#93223d" stroke-width="1.15" stroke-linejoin="round"/>
<path d="M101.1,351.78 L101.79,349.66 L102.49,349.62 L103.18,349.73 L103.88,349.67 L104.57,349.76 L105.26,349.73 L105.96,349.79 L106.65,349.88 L107.34,349.81 L108.04,349.89 L108.73,349.8 L109.42,349.78 L110.12,349.87 L110.81,349.89 L111.51,349.77 L112.2,349.8 L112.89,349.73 L113.59,349.79 L114.28,349.84 L114.97,349.8 L115.67,349.77 L116.36,349.73 L117.06,349.82 L117.75,349.84 L118.44,349.83 L119.14,349.81 L119.83,349.71 L120.53,349.79 L121.22,349.64 L121.91,349.57 L122.61,349.54 L123.3,349.33 L123.99,349.37 L124.69,349.31 L125.38,349.27 L126.08,349.25 L126.77,349.14 L127.46,348.96 L128.16,348.97 L128.85,348.93 L129.54,348.86 L130.24,348.73 L130.93,348.64 L131.62,348.69 L132.32,348.61 L133.01,348.53 L133.71,348.38 L134.4,348.49" fill="none" stroke="#93223d" stroke-width="1.15" stroke-linejoin="round"/>
<line x1="211.8" y1="319.3" x2="211.8" y2="404.15" stroke="#000" stroke-width="0.9"/>
<line x1="208.8" y1="396.2" x2="211.8" y2="396.2" stroke="#000" stroke-width="0.8"/>
<text x="207.6" y="398.55" font-size="6.6" text-anchor="end" fill="#111" >0</text>
<line x1="208.8" y1="376.98" x2="211.8" y2="376.98" stroke="#000" stroke-width="0.8"/>
<text x="207.6" y="379.33" font-size="6.6" text-anchor="end" fill="#111" >50</text>
<line x1="208.8" y1="357.75" x2="211.8" y2="357.75" stroke="#000" stroke-width="0.8"/>
<text x="207.6" y="360.1" font-size="6.6" text-anchor="end" fill="#111" >100</text>
<line x1="208.8" y1="338.52" x2="211.8" y2="338.52" stroke="#000" stroke-width="0.8"/>
<text x="207.6" y="340.88" font-size="6.6" text-anchor="end" fill="#111" >150</text>
<line x1="208.8" y1="319.3" x2="211.8" y2="319.3" stroke="#000" stroke-width="0.8"/>
<text x="207.6" y="321.65" font-size="6.6" text-anchor="end" fill="#111" >200</text>
<line x1="211.8" y1="403.7" x2="339.4" y2="403.7" stroke="#000" stroke-width="0.9"/>
<line x1="211.8" y1="403.7" x2="211.8" y2="405.9" stroke="#000" stroke-width="0.8"/>
<text x="211.8" y="414.3" font-size="6.6" text-anchor="middle" fill="#111" >10</text>
<line x1="219.74" y1="403.7" x2="219.74" y2="405" stroke="#000" stroke-width="0.6"/>
<line x1="227.67" y1="403.7" x2="227.67" y2="405" stroke="#000" stroke-width="0.6"/>
<line x1="235.61" y1="403.7" x2="235.61" y2="405" stroke="#000" stroke-width="0.6"/>
<line x1="243.54" y1="403.7" x2="243.54" y2="405.9" stroke="#000" stroke-width="0.8"/>
<text x="243.54" y="414.3" font-size="6.6" text-anchor="middle" fill="#111" >11</text>
<line x1="251.48" y1="403.7" x2="251.48" y2="405" stroke="#000" stroke-width="0.6"/>
<line x1="259.41" y1="403.7" x2="259.41" y2="405" stroke="#000" stroke-width="0.6"/>
<line x1="267.35" y1="403.7" x2="267.35" y2="405" stroke="#000" stroke-width="0.6"/>
<line x1="275.28" y1="403.7" x2="275.28" y2="405.9" stroke="#000" stroke-width="0.8"/>
<text x="275.28" y="414.3" font-size="6.6" text-anchor="middle" fill="#111" >12</text>
<line x1="283.22" y1="403.7" x2="283.22" y2="405" stroke="#000" stroke-width="0.6"/>
<line x1="291.15" y1="403.7" x2="291.15" y2="405" stroke="#000" stroke-width="0.6"/>
<line x1="299.09" y1="403.7" x2="299.09" y2="405" stroke="#000" stroke-width="0.6"/>
<line x1="307.02" y1="403.7" x2="307.02" y2="405.9" stroke="#000" stroke-width="0.8"/>
<text x="307.02" y="414.3" font-size="6.6" text-anchor="middle" fill="#111" >13</text>
<line x1="314.96" y1="403.7" x2="314.96" y2="405" stroke="#000" stroke-width="0.6"/>
<line x1="322.89" y1="403.7" x2="322.89" y2="405" stroke="#000" stroke-width="0.6"/>
<line x1="330.83" y1="403.7" x2="330.83" y2="405" stroke="#000" stroke-width="0.6"/>
<line x1="338.77" y1="403.7" x2="338.77" y2="405.9" stroke="#000" stroke-width="0.8"/>
<text x="338.77" y="414.3" font-size="6.6" text-anchor="middle" fill="#111" >14</text>
<line x1="339.4" y1="319.3" x2="339.4" y2="404.15" stroke="#000" stroke-width="0.9"/>
<line x1="339.4" y1="403.7" x2="341.4" y2="403.7" stroke="#000" stroke-width="0.8"/>
<text x="343.6" y="405.8" font-size="6.0" fill="#c8404e">10<tspan font-size="4.3" dy="-2.0">3</tspan></text>
<line x1="338.3" y1="395.23" x2="339.4" y2="395.23" stroke="#000" stroke-width="0.5"/>
<line x1="338.3" y1="390.28" x2="339.4" y2="390.28" stroke="#000" stroke-width="0.5"/>
<line x1="338.3" y1="386.76" x2="339.4" y2="386.76" stroke="#000" stroke-width="0.5"/>
<line x1="338.3" y1="384.04" x2="339.4" y2="384.04" stroke="#000" stroke-width="0.5"/>
<line x1="338.3" y1="381.81" x2="339.4" y2="381.81" stroke="#000" stroke-width="0.5"/>
<line x1="338.3" y1="379.92" x2="339.4" y2="379.92" stroke="#000" stroke-width="0.5"/>
<line x1="338.3" y1="378.29" x2="339.4" y2="378.29" stroke="#000" stroke-width="0.5"/>
<line x1="338.3" y1="376.85" x2="339.4" y2="376.85" stroke="#000" stroke-width="0.5"/>
<line x1="339.4" y1="375.57" x2="341.4" y2="375.57" stroke="#000" stroke-width="0.8"/>
<text x="343.6" y="377.67" font-size="6.0" fill="#c8404e">10<tspan font-size="4.3" dy="-2.0">4</tspan></text>
<line x1="338.3" y1="367.1" x2="339.4" y2="367.1" stroke="#000" stroke-width="0.5"/>
<line x1="338.3" y1="362.14" x2="339.4" y2="362.14" stroke="#000" stroke-width="0.5"/>
<line x1="338.3" y1="358.63" x2="339.4" y2="358.63" stroke="#000" stroke-width="0.5"/>
<line x1="338.3" y1="355.9" x2="339.4" y2="355.9" stroke="#000" stroke-width="0.5"/>
<line x1="338.3" y1="353.67" x2="339.4" y2="353.67" stroke="#000" stroke-width="0.5"/>
<line x1="338.3" y1="351.79" x2="339.4" y2="351.79" stroke="#000" stroke-width="0.5"/>
<line x1="338.3" y1="350.16" x2="339.4" y2="350.16" stroke="#000" stroke-width="0.5"/>
<line x1="338.3" y1="348.72" x2="339.4" y2="348.72" stroke="#000" stroke-width="0.5"/>
<line x1="339.4" y1="347.43" x2="341.4" y2="347.43" stroke="#000" stroke-width="0.8"/>
<text x="343.6" y="349.53" font-size="6.0" fill="#c8404e">10<tspan font-size="4.3" dy="-2.0">5</tspan></text>
<line x1="338.3" y1="338.96" x2="339.4" y2="338.96" stroke="#000" stroke-width="0.5"/>
<line x1="338.3" y1="334.01" x2="339.4" y2="334.01" stroke="#000" stroke-width="0.5"/>
<line x1="338.3" y1="330.5" x2="339.4" y2="330.5" stroke="#000" stroke-width="0.5"/>
<line x1="338.3" y1="327.77" x2="339.4" y2="327.77" stroke="#000" stroke-width="0.5"/>
<line x1="338.3" y1="325.54" x2="339.4" y2="325.54" stroke="#000" stroke-width="0.5"/>
<line x1="338.3" y1="323.66" x2="339.4" y2="323.66" stroke="#000" stroke-width="0.5"/>
<line x1="338.3" y1="322.03" x2="339.4" y2="322.03" stroke="#000" stroke-width="0.5"/>
<line x1="338.3" y1="320.59" x2="339.4" y2="320.59" stroke="#000" stroke-width="0.5"/>
<line x1="339.4" y1="319.3" x2="341.4" y2="319.3" stroke="#000" stroke-width="0.8"/>
<text x="343.6" y="321.4" font-size="6.0" fill="#c8404e">10<tspan font-size="4.3" dy="-2.0">6</tspan></text>
<text transform="translate(192.9,361.9) rotate(-90)" font-size="5.45" text-anchor="middle" fill="#000">Refractive index (mV)</text>
<text transform="translate(358.7,362.5) rotate(90)" font-size="5.6" text-anchor="middle" fill="#c8404e">Molecular weight (g/mol)</text>
<text x="275.9" y="421.9" font-size="5.6" text-anchor="middle" fill="#111" >Retention volume (ml)</text>
<path d="M212.2,395.7 C213.42,395.38 217.12,394.32 219.5,393.8 C221.88,393.28 224.15,392.73 226.5,392.6 C228.85,392.47 231.23,392.88 233.6,393 C235.97,393.12 238.33,393.57 240.7,393.3 C243.07,393.03 245.63,392.12 247.8,391.4 C249.97,390.68 251.92,389.67 253.7,389 C255.48,388.33 256.92,387.47 258.5,387.4 C260.08,387.33 261.43,387.9 263.2,388.6 C264.97,389.3 266.93,390.73 269.1,391.6 C271.27,392.47 273.43,393.4 276.2,393.8 C278.97,394.2 283.4,393.98 285.7,394 C288,394.02 288.85,394.05 290,393.9 C291.15,393.75 291.6,393.8 292.6,393.1 C293.6,392.4 295.07,391.4 296,389.7 C296.93,388 297.55,385.17 298.2,382.9 C298.85,380.63 299.33,378.93 299.9,376.1 C300.47,373.27 301.03,369.32 301.6,365.9 C302.17,362.48 302.73,359.02 303.3,355.6 C303.87,352.18 304.43,348.52 305,345.4 C305.57,342.28 306.22,339.02 306.7,336.9 C307.18,334.78 307.5,333.6 307.9,332.7 C308.3,331.8 308.68,331.5 309.1,331.5 C309.52,331.5 309.95,331.65 310.4,332.7 C310.85,333.75 311.28,335.4 311.8,337.8 C312.32,340.2 312.93,343.7 313.5,347.1 C314.07,350.5 314.63,354.5 315.2,358.2 C315.77,361.9 316.33,365.75 316.9,369.3 C317.47,372.85 317.98,376.38 318.6,379.5 C319.22,382.62 319.7,385.88 320.6,388 C321.5,390.12 322.58,391.22 324,392.2 C325.42,393.18 327.6,393.52 329.1,393.9 C330.6,394.28 331.38,394.35 333,394.5 C334.62,394.65 337.83,394.75 338.8,394.8" fill="none" stroke="#111" stroke-width="1.1" stroke-linejoin="round"/>
<path d="M211.9,333.15 L212.58,333.25 L213.26,333.34 L213.94,332.87 L214.62,332.71 L215.3,332.34 L215.98,332.47 L216.66,332.26 L217.34,332.54 L218.02,332.63 L218.7,332.59 L219.38,332.92 L220.06,332.75 L220.74,332.97 L221.42,333.29 L222.1,333.48 L222.78,333.83 L223.46,334.12 L224.14,334.22 L224.82,334.43 L225.5,334.68 L226.18,334.97 L226.86,335.38 L227.54,335.53 L228.22,335.88 L228.9,336.09" fill="none" stroke="#93223d" stroke-width="1.15" stroke-linejoin="round"/>
<path d="M249,340.73 L249.69,340.91 L250.39,340.8 L251.08,340.93 L251.78,341.09 L252.47,340.92 L253.16,341.05 L253.86,340.97 L254.55,341.09 L255.25,341.06 L255.94,341.19 L256.64,341.22 L257.33,341.31 L258.02,341.53 L258.72,341.53 L259.41,341.66 L260.11,341.7 L260.8,341.79 L261.49,341.84 L262.19,341.86 L262.88,342.11 L263.58,342.34 L264.27,342.35 L264.96,342.37 L265.66,342.64 L266.35,342.58 L267.05,342.68 L267.74,342.74 L268.44,342.87 L269.13,343.03 L269.82,343.32 L270.52,343.26 L271.21,343.3 L271.91,343.44 L272.6,343.58" fill="none" stroke="#93223d" stroke-width="1.15" stroke-linejoin="round"/>
<path d="M290.4,346.29 L291.1,347.09 L291.79,347.73 L292.49,348.26 L293.19,348.59 L293.88,348.54 L294.58,348.67 L295.28,349.2 L295.97,349.35 L296.67,349.13 L297.36,349.36 L298.06,349.37 L298.76,349.45 L299.45,349.44 L300.15,349.38 L300.85,349.49 L301.54,349.51 L302.24,349.51 L302.94,349.32 L303.63,349.21 L304.33,349.5 L305.03,349.39 L305.72,349.6 L306.42,349.64 L307.12,349.57 L307.81,349.47 L308.51,349.51 L309.21,349.62 L309.9,349.38 L310.6,349.56 L311.29,349.51 L311.99,349.44 L312.69,349.57 L313.38,349.29 L314.08,349.47 L314.78,349.23 L315.47,349.23 L316.17,349.18 L316.87,349.31 L317.56,349.07 L318.26,349.12 L318.96,348.91 L319.65,349.11 L320.35,349.13 L321.05,348.87 L321.74,348.97 L322.44,348.77 L323.14,348.9 L323.83,348.6 L324.53,348.38 L325.22,348.73 L325.92,348.51 L326.62,348.38 L327.31,348.41 L328.01,348.27 L328.71,348.42 L329.4,348.29 L330.1,348.58" fill="none" stroke="#93223d" stroke-width="1.15" stroke-linejoin="round"/>
<line x1="394" y1="318.6" x2="394" y2="404.25" stroke="#000" stroke-width="0.9"/>
<line x1="391" y1="403.8" x2="394" y2="403.8" stroke="#000" stroke-width="0.8"/>
<text x="389.8" y="406.15" font-size="6.6" text-anchor="end" fill="#111" >0</text>
<line x1="391" y1="382.5" x2="394" y2="382.5" stroke="#000" stroke-width="0.8"/>
<text x="389.8" y="384.85" font-size="6.6" text-anchor="end" fill="#111" >50</text>
<line x1="391" y1="361.2" x2="394" y2="361.2" stroke="#000" stroke-width="0.8"/>
<text x="389.8" y="363.55" font-size="6.6" text-anchor="end" fill="#111" >100</text>
<line x1="391" y1="339.9" x2="394" y2="339.9" stroke="#000" stroke-width="0.8"/>
<text x="389.8" y="342.25" font-size="6.6" text-anchor="end" fill="#111" >150</text>
<line x1="391" y1="318.6" x2="394" y2="318.6" stroke="#000" stroke-width="0.8"/>
<text x="389.8" y="320.95" font-size="6.6" text-anchor="end" fill="#111" >200</text>
<line x1="394" y1="403.8" x2="522.8" y2="403.8" stroke="#000" stroke-width="0.9"/>
<line x1="394.51" y1="403.8" x2="394.51" y2="406" stroke="#000" stroke-width="0.8"/>
<text x="394.51" y="414.4" font-size="6.6" text-anchor="middle" fill="#111" >11</text>
<line x1="400.93" y1="403.8" x2="400.93" y2="405.1" stroke="#000" stroke-width="0.6"/>
<line x1="407.34" y1="403.8" x2="407.34" y2="405.1" stroke="#000" stroke-width="0.6"/>
<line x1="413.76" y1="403.8" x2="413.76" y2="405.1" stroke="#000" stroke-width="0.6"/>
<line x1="420.17" y1="403.8" x2="420.17" y2="406" stroke="#000" stroke-width="0.8"/>
<text x="420.17" y="414.4" font-size="6.6" text-anchor="middle" fill="#111" >12</text>
<line x1="426.58" y1="403.8" x2="426.58" y2="405.1" stroke="#000" stroke-width="0.6"/>
<line x1="433" y1="403.8" x2="433" y2="405.1" stroke="#000" stroke-width="0.6"/>
<line x1="439.41" y1="403.8" x2="439.41" y2="405.1" stroke="#000" stroke-width="0.6"/>
<line x1="445.83" y1="403.8" x2="445.83" y2="406" stroke="#000" stroke-width="0.8"/>
<text x="445.83" y="414.4" font-size="6.6" text-anchor="middle" fill="#111" >13</text>
<line x1="452.24" y1="403.8" x2="452.24" y2="405.1" stroke="#000" stroke-width="0.6"/>
<line x1="458.66" y1="403.8" x2="458.66" y2="405.1" stroke="#000" stroke-width="0.6"/>
<line x1="465.07" y1="403.8" x2="465.07" y2="405.1" stroke="#000" stroke-width="0.6"/>
<line x1="471.49" y1="403.8" x2="471.49" y2="406" stroke="#000" stroke-width="0.8"/>
<text x="471.49" y="414.4" font-size="6.6" text-anchor="middle" fill="#111" >14</text>
<line x1="477.9" y1="403.8" x2="477.9" y2="405.1" stroke="#000" stroke-width="0.6"/>
<line x1="484.31" y1="403.8" x2="484.31" y2="405.1" stroke="#000" stroke-width="0.6"/>
<line x1="490.73" y1="403.8" x2="490.73" y2="405.1" stroke="#000" stroke-width="0.6"/>
<line x1="497.14" y1="403.8" x2="497.14" y2="406" stroke="#000" stroke-width="0.8"/>
<text x="497.14" y="414.4" font-size="6.6" text-anchor="middle" fill="#111" >15</text>
<line x1="503.56" y1="403.8" x2="503.56" y2="405.1" stroke="#000" stroke-width="0.6"/>
<line x1="509.97" y1="403.8" x2="509.97" y2="405.1" stroke="#000" stroke-width="0.6"/>
<line x1="516.39" y1="403.8" x2="516.39" y2="405.1" stroke="#000" stroke-width="0.6"/>
<line x1="522.8" y1="403.8" x2="522.8" y2="406" stroke="#000" stroke-width="0.8"/>
<text x="522.8" y="414.4" font-size="6.6" text-anchor="middle" fill="#111" >16</text>
<line x1="522.8" y1="318.6" x2="522.8" y2="404.25" stroke="#000" stroke-width="0.9"/>
<line x1="522.8" y1="403.8" x2="524.8" y2="403.8" stroke="#000" stroke-width="0.8"/>
<text x="527" y="405.9" font-size="6.0" fill="#c8404e">10<tspan font-size="4.3" dy="-2.0">3</tspan></text>
<line x1="521.7" y1="395.25" x2="522.8" y2="395.25" stroke="#000" stroke-width="0.5"/>
<line x1="521.7" y1="390.25" x2="522.8" y2="390.25" stroke="#000" stroke-width="0.5"/>
<line x1="521.7" y1="386.7" x2="522.8" y2="386.7" stroke="#000" stroke-width="0.5"/>
<line x1="521.7" y1="383.95" x2="522.8" y2="383.95" stroke="#000" stroke-width="0.5"/>
<line x1="521.7" y1="381.7" x2="522.8" y2="381.7" stroke="#000" stroke-width="0.5"/>
<line x1="521.7" y1="379.8" x2="522.8" y2="379.8" stroke="#000" stroke-width="0.5"/>
<line x1="521.7" y1="378.15" x2="522.8" y2="378.15" stroke="#000" stroke-width="0.5"/>
<line x1="521.7" y1="376.7" x2="522.8" y2="376.7" stroke="#000" stroke-width="0.5"/>
<line x1="522.8" y1="375.4" x2="524.8" y2="375.4" stroke="#000" stroke-width="0.8"/>
<text x="527" y="377.5" font-size="6.0" fill="#c8404e">10<tspan font-size="4.3" dy="-2.0">4</tspan></text>
<line x1="521.7" y1="366.85" x2="522.8" y2="366.85" stroke="#000" stroke-width="0.5"/>
<line x1="521.7" y1="361.85" x2="522.8" y2="361.85" stroke="#000" stroke-width="0.5"/>
<line x1="521.7" y1="358.3" x2="522.8" y2="358.3" stroke="#000" stroke-width="0.5"/>
<line x1="521.7" y1="355.55" x2="522.8" y2="355.55" stroke="#000" stroke-width="0.5"/>
<line x1="521.7" y1="353.3" x2="522.8" y2="353.3" stroke="#000" stroke-width="0.5"/>
<line x1="521.7" y1="351.4" x2="522.8" y2="351.4" stroke="#000" stroke-width="0.5"/>
<line x1="521.7" y1="349.75" x2="522.8" y2="349.75" stroke="#000" stroke-width="0.5"/>
<line x1="521.7" y1="348.3" x2="522.8" y2="348.3" stroke="#000" stroke-width="0.5"/>
<line x1="522.8" y1="347" x2="524.8" y2="347" stroke="#000" stroke-width="0.8"/>
<text x="527" y="349.1" font-size="6.0" fill="#c8404e">10<tspan font-size="4.3" dy="-2.0">5</tspan></text>
<line x1="521.7" y1="338.45" x2="522.8" y2="338.45" stroke="#000" stroke-width="0.5"/>
<line x1="521.7" y1="333.45" x2="522.8" y2="333.45" stroke="#000" stroke-width="0.5"/>
<line x1="521.7" y1="329.9" x2="522.8" y2="329.9" stroke="#000" stroke-width="0.5"/>
<line x1="521.7" y1="327.15" x2="522.8" y2="327.15" stroke="#000" stroke-width="0.5"/>
<line x1="521.7" y1="324.9" x2="522.8" y2="324.9" stroke="#000" stroke-width="0.5"/>
<line x1="521.7" y1="323" x2="522.8" y2="323" stroke="#000" stroke-width="0.5"/>
<line x1="521.7" y1="321.35" x2="522.8" y2="321.35" stroke="#000" stroke-width="0.5"/>
<line x1="521.7" y1="319.9" x2="522.8" y2="319.9" stroke="#000" stroke-width="0.5"/>
<line x1="522.8" y1="318.6" x2="524.8" y2="318.6" stroke="#000" stroke-width="0.8"/>
<text x="527" y="320.7" font-size="6.0" fill="#c8404e">10<tspan font-size="4.3" dy="-2.0">6</tspan></text>
<text transform="translate(377.1,361.6) rotate(-90)" font-size="5.45" text-anchor="middle" fill="#000">Refractive index (mV)</text>
<text transform="translate(540.4,362) rotate(90)" font-size="5.6" text-anchor="middle" fill="#c8404e">Molecular weight (g/mol)</text>
<text x="455.3" y="422" font-size="5.6" text-anchor="middle" fill="#111" >Retention volume (ml)</text>
<path d="M394.2,403.2 C397.15,403.2 407.77,403.32 411.9,403.2 C416.03,403.08 417.03,402.65 419,402.5 C420.97,402.35 421.73,402.27 423.7,402.3 C425.67,402.33 428.03,402.55 430.8,402.7 C433.57,402.85 435.97,403.12 440.3,403.2 C444.63,403.28 453.52,403.27 456.8,403.2 C460.08,403.13 459.2,402.98 460,402.8 C460.8,402.62 461.1,402.73 461.6,402.1 C462.1,401.47 462.55,400.52 463,399 C463.45,397.48 463.87,395.48 464.3,393 C464.73,390.52 465.18,387.6 465.6,384.1 C466.02,380.6 466.38,376.92 466.8,372 C467.22,367.08 467.65,359.18 468.1,354.6 C468.55,350.02 469.03,346.82 469.5,344.5 C469.97,342.18 470.42,340.87 470.9,340.7 C471.38,340.53 471.83,341.18 472.4,343.5 C472.97,345.82 473.62,350.18 474.3,354.6 C474.98,359.02 475.77,365.08 476.5,370 C477.23,374.92 478.03,380.85 478.7,384.1 C479.37,387.35 479.68,387.87 480.5,389.5 C481.32,391.13 482.4,392.62 483.6,393.9 C484.8,395.18 485.92,396.25 487.7,397.2 C489.48,398.15 492.38,399.05 494.3,399.6 C496.22,400.15 497.57,400.22 499.2,400.5 C500.83,400.78 501.7,401.02 504.1,401.3 C506.5,401.58 510.65,401.97 513.6,402.2 C516.55,402.43 520.43,402.62 521.8,402.7" fill="none" stroke="#111" stroke-width="1.1" stroke-linejoin="round"/>
<path d="M414.3,337.93 L414.99,338.05 L415.68,339.02 L416.36,340.28 L417.05,340.43 L417.74,341.52 L418.43,342 L419.11,342.2 L419.8,342.74 L420.49,343.41 L421.18,343.81 L421.86,343.91 L422.55,343.48 L423.24,343.85 L423.93,343.3 L424.61,343.57 L425.3,342.95 L425.99,343.41 L426.68,342.59 L427.36,342.54 L428.05,342.64 L428.74,342.6 L429.43,341.67 L430.11,341.75 L430.8,341.75" fill="none" stroke="#93223d" stroke-width="1.3" stroke-linejoin="round"/>
<path d="M462,350.33 L462.69,352.13 L463.38,353.33 L464.07,353.68 L464.75,354.27 L465.44,354.37 L466.13,354.14 L466.82,354.04 L467.51,354.31 L468.2,354.44 L468.89,354.32 L469.57,354.41 L470.26,354.24 L470.95,354.14 L471.64,354.39 L472.33,354.31 L473.02,354.38 L473.71,354.12 L474.4,354.29 L475.08,354.17 L475.77,354.32 L476.46,354.13 L477.15,354.11 L477.84,354.09 L478.53,354.29 L479.22,354.12 L479.9,354 L480.59,353.95 L481.28,353.92 L481.97,354.2 L482.66,353.79 L483.35,353.9 L484.04,354.08 L484.73,354.14 L485.41,353.98 L486.1,354.09 L486.79,354.09 L487.48,354.12 L488.17,354.01 L488.86,354.2 L489.55,354.03 L490.23,354.19 L490.92,353.87 L491.61,354.12 L492.3,353.85" fill="none" stroke="#93223d" stroke-width="1.15" stroke-linejoin="round"/>
</svg></body></html>
